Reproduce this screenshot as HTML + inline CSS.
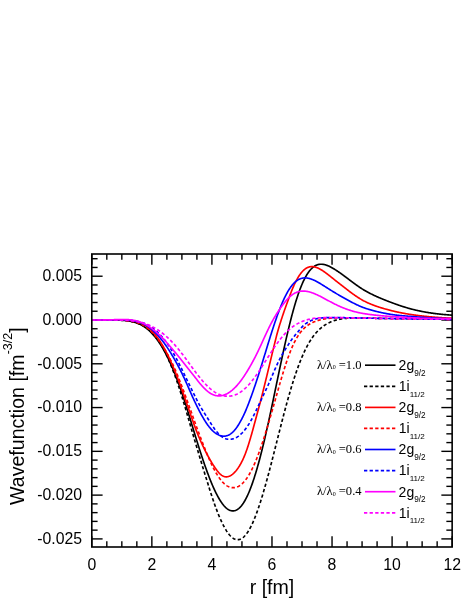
<!DOCTYPE html>
<html><head><meta charset="utf-8"><title>Wavefunction</title>
<style>html,body{margin:0;padding:0;background:#fff;width:463px;height:599px;overflow:hidden;font-family:"Liberation Sans",sans-serif}</style>
</head><body>
<svg width="463" height="599" viewBox="0 0 463 599" style="position:absolute;left:0;top:0;font-family:'Liberation Sans',sans-serif;will-change:transform" font-family="Liberation Sans" fill="#000">
<rect x="0" y="0" width="463" height="599" fill="#fff"/>
<defs><clipPath id="cp"><rect x="91.8" y="254.0" width="360.34999999999997" height="293.0"/></clipPath></defs>
<g stroke="#000" stroke-width="1.4"><line x1="91.80" y1="547.0" x2="91.80" y2="536.2"/><line x1="91.80" y1="254.0" x2="91.80" y2="264.8"/><line x1="106.81" y1="547.0" x2="106.81" y2="541.2"/><line x1="106.81" y1="254.0" x2="106.81" y2="259.8"/><line x1="121.83" y1="547.0" x2="121.83" y2="541.2"/><line x1="121.83" y1="254.0" x2="121.83" y2="259.8"/><line x1="136.84" y1="547.0" x2="136.84" y2="541.2"/><line x1="136.84" y1="254.0" x2="136.84" y2="259.8"/><line x1="151.86" y1="547.0" x2="151.86" y2="536.2"/><line x1="151.86" y1="254.0" x2="151.86" y2="264.8"/><line x1="166.88" y1="547.0" x2="166.88" y2="541.2"/><line x1="166.88" y1="254.0" x2="166.88" y2="259.8"/><line x1="181.89" y1="547.0" x2="181.89" y2="541.2"/><line x1="181.89" y1="254.0" x2="181.89" y2="259.8"/><line x1="196.91" y1="547.0" x2="196.91" y2="541.2"/><line x1="196.91" y1="254.0" x2="196.91" y2="259.8"/><line x1="211.92" y1="547.0" x2="211.92" y2="536.2"/><line x1="211.92" y1="254.0" x2="211.92" y2="264.8"/><line x1="226.94" y1="547.0" x2="226.94" y2="541.2"/><line x1="226.94" y1="254.0" x2="226.94" y2="259.8"/><line x1="241.95" y1="547.0" x2="241.95" y2="541.2"/><line x1="241.95" y1="254.0" x2="241.95" y2="259.8"/><line x1="256.97" y1="547.0" x2="256.97" y2="541.2"/><line x1="256.97" y1="254.0" x2="256.97" y2="259.8"/><line x1="271.98" y1="547.0" x2="271.98" y2="536.2"/><line x1="271.98" y1="254.0" x2="271.98" y2="264.8"/><line x1="287.00" y1="547.0" x2="287.00" y2="541.2"/><line x1="287.00" y1="254.0" x2="287.00" y2="259.8"/><line x1="302.01" y1="547.0" x2="302.01" y2="541.2"/><line x1="302.01" y1="254.0" x2="302.01" y2="259.8"/><line x1="317.03" y1="547.0" x2="317.03" y2="541.2"/><line x1="317.03" y1="254.0" x2="317.03" y2="259.8"/><line x1="332.04" y1="547.0" x2="332.04" y2="536.2"/><line x1="332.04" y1="254.0" x2="332.04" y2="264.8"/><line x1="347.06" y1="547.0" x2="347.06" y2="541.2"/><line x1="347.06" y1="254.0" x2="347.06" y2="259.8"/><line x1="362.07" y1="547.0" x2="362.07" y2="541.2"/><line x1="362.07" y1="254.0" x2="362.07" y2="259.8"/><line x1="377.09" y1="547.0" x2="377.09" y2="541.2"/><line x1="377.09" y1="254.0" x2="377.09" y2="259.8"/><line x1="392.10" y1="547.0" x2="392.10" y2="536.2"/><line x1="392.10" y1="254.0" x2="392.10" y2="264.8"/><line x1="407.12" y1="547.0" x2="407.12" y2="541.2"/><line x1="407.12" y1="254.0" x2="407.12" y2="259.8"/><line x1="422.13" y1="547.0" x2="422.13" y2="541.2"/><line x1="422.13" y1="254.0" x2="422.13" y2="259.8"/><line x1="437.15" y1="547.0" x2="437.15" y2="541.2"/><line x1="437.15" y1="254.0" x2="437.15" y2="259.8"/><line x1="452.16" y1="547.0" x2="452.16" y2="536.2"/><line x1="452.16" y1="254.0" x2="452.16" y2="264.8"/><line x1="91.8" y1="538.90" x2="102.6" y2="538.90"/><line x1="452.15" y1="538.90" x2="441.34999999999997" y2="538.90"/><line x1="91.8" y1="530.14" x2="97.6" y2="530.14"/><line x1="452.15" y1="530.14" x2="446.34999999999997" y2="530.14"/><line x1="91.8" y1="521.39" x2="97.6" y2="521.39"/><line x1="452.15" y1="521.39" x2="446.34999999999997" y2="521.39"/><line x1="91.8" y1="512.63" x2="97.6" y2="512.63"/><line x1="452.15" y1="512.63" x2="446.34999999999997" y2="512.63"/><line x1="91.8" y1="503.88" x2="97.6" y2="503.88"/><line x1="452.15" y1="503.88" x2="446.34999999999997" y2="503.88"/><line x1="91.8" y1="495.12" x2="102.6" y2="495.12"/><line x1="452.15" y1="495.12" x2="441.34999999999997" y2="495.12"/><line x1="91.8" y1="486.36" x2="97.6" y2="486.36"/><line x1="452.15" y1="486.36" x2="446.34999999999997" y2="486.36"/><line x1="91.8" y1="477.61" x2="97.6" y2="477.61"/><line x1="452.15" y1="477.61" x2="446.34999999999997" y2="477.61"/><line x1="91.8" y1="468.85" x2="97.6" y2="468.85"/><line x1="452.15" y1="468.85" x2="446.34999999999997" y2="468.85"/><line x1="91.8" y1="460.10" x2="97.6" y2="460.10"/><line x1="452.15" y1="460.10" x2="446.34999999999997" y2="460.10"/><line x1="91.8" y1="451.34" x2="102.6" y2="451.34"/><line x1="452.15" y1="451.34" x2="441.34999999999997" y2="451.34"/><line x1="91.8" y1="442.58" x2="97.6" y2="442.58"/><line x1="452.15" y1="442.58" x2="446.34999999999997" y2="442.58"/><line x1="91.8" y1="433.83" x2="97.6" y2="433.83"/><line x1="452.15" y1="433.83" x2="446.34999999999997" y2="433.83"/><line x1="91.8" y1="425.07" x2="97.6" y2="425.07"/><line x1="452.15" y1="425.07" x2="446.34999999999997" y2="425.07"/><line x1="91.8" y1="416.32" x2="97.6" y2="416.32"/><line x1="452.15" y1="416.32" x2="446.34999999999997" y2="416.32"/><line x1="91.8" y1="407.56" x2="102.6" y2="407.56"/><line x1="452.15" y1="407.56" x2="441.34999999999997" y2="407.56"/><line x1="91.8" y1="398.80" x2="97.6" y2="398.80"/><line x1="452.15" y1="398.80" x2="446.34999999999997" y2="398.80"/><line x1="91.8" y1="390.05" x2="97.6" y2="390.05"/><line x1="452.15" y1="390.05" x2="446.34999999999997" y2="390.05"/><line x1="91.8" y1="381.29" x2="97.6" y2="381.29"/><line x1="452.15" y1="381.29" x2="446.34999999999997" y2="381.29"/><line x1="91.8" y1="372.54" x2="97.6" y2="372.54"/><line x1="452.15" y1="372.54" x2="446.34999999999997" y2="372.54"/><line x1="91.8" y1="363.78" x2="102.6" y2="363.78"/><line x1="452.15" y1="363.78" x2="441.34999999999997" y2="363.78"/><line x1="91.8" y1="355.02" x2="97.6" y2="355.02"/><line x1="452.15" y1="355.02" x2="446.34999999999997" y2="355.02"/><line x1="91.8" y1="346.27" x2="97.6" y2="346.27"/><line x1="452.15" y1="346.27" x2="446.34999999999997" y2="346.27"/><line x1="91.8" y1="337.51" x2="97.6" y2="337.51"/><line x1="452.15" y1="337.51" x2="446.34999999999997" y2="337.51"/><line x1="91.8" y1="328.76" x2="97.6" y2="328.76"/><line x1="452.15" y1="328.76" x2="446.34999999999997" y2="328.76"/><line x1="91.8" y1="320.00" x2="102.6" y2="320.00"/><line x1="452.15" y1="320.00" x2="441.34999999999997" y2="320.00"/><line x1="91.8" y1="311.24" x2="97.6" y2="311.24"/><line x1="452.15" y1="311.24" x2="446.34999999999997" y2="311.24"/><line x1="91.8" y1="302.49" x2="97.6" y2="302.49"/><line x1="452.15" y1="302.49" x2="446.34999999999997" y2="302.49"/><line x1="91.8" y1="293.73" x2="97.6" y2="293.73"/><line x1="452.15" y1="293.73" x2="446.34999999999997" y2="293.73"/><line x1="91.8" y1="284.98" x2="97.6" y2="284.98"/><line x1="452.15" y1="284.98" x2="446.34999999999997" y2="284.98"/><line x1="91.8" y1="276.22" x2="102.6" y2="276.22"/><line x1="452.15" y1="276.22" x2="441.34999999999997" y2="276.22"/><line x1="91.8" y1="267.46" x2="97.6" y2="267.46"/><line x1="452.15" y1="267.46" x2="446.34999999999997" y2="267.46"/><line x1="91.8" y1="258.71" x2="97.6" y2="258.71"/><line x1="452.15" y1="258.71" x2="446.34999999999997" y2="258.71"/></g>
<g clip-path="url(#cp)">
<path d="M91.80,320.00 L92.25,320.00 L92.70,320.00 L93.15,320.00 L93.60,320.00 L94.05,320.00 L94.50,320.00 L94.95,320.00 L95.40,320.00 L95.85,320.00 L96.30,320.00 L96.75,320.00 L97.21,320.00 L97.66,320.00 L98.11,320.00 L98.56,320.00 L99.01,320.00 L99.46,320.00 L99.91,320.00 L100.36,320.00 L100.81,320.00 L101.26,319.99 L101.71,319.99 L102.16,319.99 L102.61,319.99 L103.06,319.99 L103.51,319.99 L103.96,319.99 L104.41,319.99 L104.86,319.99 L105.31,319.99 L105.76,319.99 L106.21,319.98 L106.66,319.98 L107.12,319.98 L107.57,319.98 L108.02,319.98 L108.47,319.98 L108.92,319.98 L109.37,319.98 L109.82,319.98 L110.27,319.98 L110.72,319.98 L111.17,319.98 L111.62,319.98 L112.07,319.99 L112.52,319.99 L112.97,319.99 L113.42,319.99 L113.87,320.00 L114.32,320.00 L114.77,320.01 L115.22,320.01 L115.67,320.02 L116.12,320.03 L116.57,320.04 L117.03,320.05 L117.48,320.06 L117.93,320.07 L118.38,320.08 L118.83,320.10 L119.28,320.12 L119.73,320.13 L120.18,320.15 L120.63,320.17 L121.08,320.20 L121.53,320.22 L121.98,320.25 L122.43,320.28 L122.88,320.31 L123.33,320.34 L123.78,320.38 L124.23,320.41 L124.68,320.46 L125.13,320.50 L125.58,320.55 L126.03,320.60 L126.48,320.65 L126.94,320.70 L127.39,320.76 L127.84,320.83 L128.29,320.89 L128.74,320.96 L129.19,321.04 L129.64,321.11 L130.09,321.19 L130.54,321.28 L130.99,321.37 L131.44,321.47 L131.89,321.57 L132.34,321.67 L132.79,321.78 L133.24,321.90 L133.69,322.02 L134.14,322.15 L134.59,322.28 L135.04,322.41 L135.49,322.56 L135.94,322.71 L136.39,322.86 L136.84,323.03 L137.30,323.20 L137.75,323.37 L138.20,323.56 L138.65,323.75 L139.10,323.94 L139.55,324.15 L140.00,324.36 L140.45,324.58 L140.90,324.81 L141.35,325.05 L141.80,325.29 L142.25,325.55 L142.70,325.81 L143.15,326.08 L143.60,326.36 L144.05,326.65 L144.50,326.95 L144.95,327.25 L145.40,327.57 L145.85,327.90 L146.30,328.24 L146.75,328.58 L147.21,328.94 L147.66,329.31 L148.11,329.69 L148.56,330.08 L149.01,330.48 L149.46,330.89 L149.91,331.31 L150.36,331.74 L150.81,332.19 L151.26,332.65 L151.71,333.12 L152.16,333.60 L152.61,334.09 L153.06,334.59 L153.52,335.11 L153.97,335.64 L154.43,336.18 L154.88,336.74 L155.34,337.30 L155.79,337.88 L156.25,338.48 L156.71,339.08 L157.16,339.70 L157.62,340.33 L158.08,340.98 L158.54,341.64 L159.00,342.31 L159.46,342.99 L159.92,343.69 L160.38,344.41 L160.84,345.13 L161.31,345.87 L161.77,346.63 L162.23,347.39 L162.69,348.18 L163.16,348.97 L163.62,349.78 L164.08,350.60 L164.54,351.44 L165.01,352.29 L165.47,353.16 L165.93,354.04 L166.40,354.93 L166.86,355.83 L167.32,356.75 L167.78,357.69 L168.25,358.64 L168.71,359.60 L169.17,360.57 L169.63,361.56 L170.09,362.56 L170.56,363.58 L171.02,364.61 L171.48,365.65 L171.94,366.71 L172.40,367.78 L172.86,368.86 L173.32,369.95 L173.78,371.06 L174.24,372.18 L174.69,373.31 L175.15,374.46 L175.61,375.61 L176.06,376.78 L176.52,377.96 L176.97,379.15 L177.43,380.36 L177.88,381.57 L178.33,382.80 L178.79,384.03 L179.24,385.28 L179.69,386.54 L180.14,387.81 L180.58,389.09 L181.03,390.37 L181.48,391.67 L181.92,392.98 L182.36,394.29 L182.80,395.62 L183.25,396.95 L183.69,398.29 L184.13,399.64 L184.56,401.00 L185.00,402.36 L185.44,403.73 L185.88,405.11 L186.31,406.49 L186.75,407.88 L187.18,409.28 L187.62,410.68 L188.05,412.08 L188.49,413.49 L188.92,414.91 L189.36,416.33 L189.79,417.75 L190.23,419.17 L190.66,420.60 L191.10,422.03 L191.53,423.47 L191.97,424.90 L192.40,426.34 L192.84,427.78 L193.27,429.21 L193.71,430.65 L194.15,432.09 L194.58,433.53 L195.02,434.96 L195.46,436.40 L195.90,437.83 L196.34,439.26 L196.79,440.69 L197.23,442.11 L197.67,443.53 L198.12,444.95 L198.56,446.36 L199.01,447.77 L199.46,449.17 L199.91,450.57 L200.36,451.96 L200.81,453.35 L201.26,454.73 L201.71,456.10 L202.17,457.46 L202.62,458.82 L203.07,460.17 L203.53,461.51 L203.98,462.84 L204.44,464.16 L204.89,465.47 L205.35,466.77 L205.81,468.06 L206.26,469.34 L206.72,470.60 L207.18,471.86 L207.63,473.10 L208.09,474.33 L208.55,475.54 L209.01,476.74 L209.47,477.93 L209.93,479.10 L210.39,480.25 L210.84,481.39 L211.30,482.52 L211.76,483.63 L212.22,484.72 L212.68,485.79 L213.14,486.85 L213.60,487.88 L214.06,488.90 L214.52,489.90 L214.99,490.88 L215.45,491.84 L215.91,492.78 L216.37,493.71 L216.83,494.61 L217.29,495.48 L217.75,496.34 L218.21,497.18 L218.67,497.99 L219.13,498.78 L219.59,499.55 L220.05,500.30 L220.51,501.02 L220.97,501.72 L221.43,502.40 L221.89,503.05 L222.35,503.68 L222.81,504.28 L223.27,504.86 L223.73,505.41 L224.19,505.94 L224.65,506.44 L225.10,506.91 L225.56,507.36 L226.02,507.79 L226.48,508.19 L226.93,508.56 L227.39,508.90 L227.85,509.22 L228.30,509.51 L228.76,509.77 L229.21,510.01 L229.67,510.22 L230.12,510.40 L230.58,510.56 L231.03,510.68 L231.48,510.78 L231.94,510.86 L232.39,510.90 L232.84,510.92 L233.29,510.90 L233.74,510.86 L234.19,510.80 L234.64,510.70 L235.09,510.58 L235.53,510.42 L235.98,510.24 L236.43,510.03 L236.87,509.80 L237.32,509.53 L237.76,509.24 L238.20,508.92 L238.65,508.58 L239.09,508.21 L239.53,507.80 L239.97,507.37 L240.41,506.92 L240.85,506.43 L241.29,505.92 L241.73,505.37 L242.17,504.80 L242.61,504.20 L243.05,503.57 L243.49,502.92 L243.93,502.23 L244.37,501.51 L244.81,500.77 L245.24,499.99 L245.68,499.19 L246.12,498.36 L246.56,497.49 L247.00,496.60 L247.43,495.68 L247.87,494.73 L248.31,493.75 L248.75,492.74 L249.19,491.70 L249.63,490.64 L250.06,489.54 L250.50,488.42 L250.94,487.26 L251.38,486.08 L251.82,484.87 L252.26,483.63 L252.70,482.36 L253.14,481.07 L253.58,479.75 L254.03,478.39 L254.47,477.02 L254.91,475.61 L255.35,474.18 L255.80,472.73 L256.24,471.24 L256.69,469.73 L257.13,468.20 L257.58,466.64 L258.02,465.06 L258.47,463.45 L258.92,461.81 L259.37,460.16 L259.82,458.48 L260.27,456.78 L260.72,455.05 L261.17,453.30 L261.62,451.53 L262.07,449.73 L262.52,447.92 L262.97,446.08 L263.42,444.22 L263.87,442.35 L264.32,440.45 L264.77,438.53 L265.22,436.60 L265.67,434.65 L266.12,432.68 L266.57,430.69 L267.03,428.69 L267.48,426.67 L267.93,424.64 L268.38,422.59 L268.83,420.53 L269.28,418.46 L269.73,416.37 L270.18,414.28 L270.63,412.17 L271.08,410.05 L271.53,407.93 L271.98,405.79 L272.43,403.65 L272.88,401.50 L273.33,399.35 L273.78,397.19 L274.23,395.03 L274.68,392.86 L275.13,390.69 L275.58,388.52 L276.03,386.34 L276.48,384.17 L276.93,382.00 L277.39,379.83 L277.84,377.66 L278.29,375.49 L278.74,373.33 L279.19,371.17 L279.64,369.02 L280.09,366.87 L280.54,364.73 L280.99,362.60 L281.44,360.48 L281.89,358.37 L282.34,356.26 L282.79,354.17 L283.24,352.09 L283.69,350.03 L284.14,347.98 L284.59,345.94 L285.04,343.91 L285.49,341.90 L285.94,339.91 L286.39,337.94 L286.84,335.98 L287.30,334.04 L287.75,332.13 L288.20,330.23 L288.65,328.35 L289.10,326.49 L289.55,324.66 L290.00,322.84 L290.45,321.05 L290.90,319.29 L291.35,317.55 L291.80,315.83 L292.25,314.14 L292.70,312.47 L293.15,310.83 L293.60,309.21 L294.05,307.63 L294.50,306.06 L294.95,304.53 L295.40,303.03 L295.85,301.55 L296.30,300.10 L296.75,298.68 L297.21,297.29 L297.66,295.93 L298.11,294.60 L298.56,293.30 L299.01,292.03 L299.46,290.78 L299.91,289.57 L300.36,288.39 L300.81,287.24 L301.26,286.12 L301.71,285.03 L302.16,283.97 L302.61,282.94 L303.06,281.94 L303.51,280.97 L303.96,280.04 L304.41,279.13 L304.86,278.25 L305.31,277.40 L305.76,276.58 L306.21,275.79 L306.66,275.03 L307.12,274.30 L307.57,273.60 L308.02,272.93 L308.47,272.28 L308.92,271.66 L309.37,271.08 L309.82,270.51 L310.27,269.98 L310.72,269.47 L311.17,268.99 L311.62,268.53 L312.07,268.10 L312.52,267.70 L312.97,267.32 L313.42,266.96 L313.87,266.63 L314.32,266.32 L314.77,266.04 L315.22,265.77 L315.67,265.53 L316.12,265.32 L316.57,265.12 L317.03,264.94 L317.48,264.79 L317.93,264.65 L318.38,264.53 L318.83,264.43 L319.28,264.35 L319.73,264.29 L320.18,264.25 L320.63,264.22 L321.08,264.21 L321.53,264.22 L321.98,264.24 L322.43,264.27 L322.88,264.32 L323.33,264.38 L323.78,264.46 L324.23,264.55 L324.68,264.66 L325.13,264.77 L325.58,264.90 L326.03,265.04 L326.48,265.19 L326.93,265.35 L327.39,265.52 L327.84,265.70 L328.29,265.88 L328.74,266.08 L329.19,266.29 L329.64,266.50 L330.09,266.72 L330.54,266.95 L330.99,267.19 L331.44,267.43 L331.89,267.68 L332.34,267.93 L332.79,268.19 L333.24,268.46 L333.69,268.73 L334.14,269.00 L334.59,269.28 L335.04,269.57 L335.49,269.85 L335.94,270.14 L336.39,270.44 L336.84,270.73 L337.30,271.03 L337.75,271.33 L338.20,271.64 L338.65,271.95 L339.10,272.25 L339.55,272.56 L340.00,272.88 L340.45,273.19 L340.90,273.51 L341.35,273.83 L341.80,274.15 L342.25,274.47 L342.70,274.80 L343.15,275.13 L343.60,275.47 L344.05,275.80 L344.50,276.14 L344.95,276.47 L345.40,276.81 L345.85,277.15 L346.30,277.49 L346.75,277.83 L347.21,278.18 L347.66,278.52 L348.11,278.86 L348.56,279.20 L349.01,279.55 L349.46,279.89 L349.91,280.23 L350.36,280.57 L350.81,280.91 L351.26,281.25 L351.71,281.59 L352.16,281.93 L352.61,282.27 L353.06,282.60 L353.51,282.93 L353.96,283.27 L354.41,283.60 L354.86,283.93 L355.31,284.25 L355.76,284.58 L356.21,284.90 L356.66,285.22 L357.12,285.54 L357.57,285.85 L358.02,286.17 L358.47,286.48 L358.92,286.78 L359.37,287.09 L359.82,287.39 L360.27,287.69 L360.72,287.98 L361.17,288.28 L361.62,288.57 L362.07,288.85 L362.52,289.13 L362.97,289.41 L363.42,289.69 L363.87,289.96 L364.32,290.23 L364.77,290.49 L365.22,290.75 L365.67,291.01 L366.12,291.26 L366.57,291.51 L367.02,291.76 L367.48,292.01 L367.93,292.25 L368.38,292.49 L368.83,292.73 L369.28,292.97 L369.73,293.20 L370.18,293.43 L370.63,293.66 L371.08,293.89 L371.53,294.12 L371.98,294.34 L372.43,294.56 L372.88,294.78 L373.33,295.00 L373.78,295.21 L374.23,295.42 L374.68,295.64 L375.13,295.85 L375.58,296.05 L376.03,296.26 L376.48,296.46 L376.93,296.67 L377.39,296.87 L377.84,297.07 L378.29,297.26 L378.74,297.46 L379.19,297.65 L379.64,297.85 L380.09,298.04 L380.54,298.23 L380.99,298.42 L381.44,298.61 L381.89,298.79 L382.34,298.98 L382.79,299.16 L383.24,299.35 L383.69,299.53 L384.14,299.71 L384.59,299.89 L385.04,300.07 L385.49,300.25 L385.94,300.42 L386.39,300.60 L386.84,300.78 L387.30,300.95 L387.75,301.13 L388.20,301.30 L388.65,301.48 L389.10,301.65 L389.55,301.82 L390.00,301.99 L390.45,302.17 L390.90,302.34 L391.35,302.51 L391.80,302.67 L392.25,302.84 L392.70,303.01 L393.15,303.18 L393.60,303.34 L394.05,303.51 L394.50,303.67 L394.95,303.83 L395.40,304.00 L395.85,304.16 L396.30,304.32 L396.75,304.48 L397.21,304.63 L397.66,304.79 L398.11,304.95 L398.56,305.10 L399.01,305.26 L399.46,305.41 L399.91,305.56 L400.36,305.71 L400.81,305.86 L401.26,306.01 L401.71,306.16 L402.16,306.30 L402.61,306.45 L403.06,306.59 L403.51,306.74 L403.96,306.88 L404.41,307.02 L404.86,307.16 L405.31,307.29 L405.76,307.43 L406.21,307.57 L406.66,307.70 L407.12,307.83 L407.57,307.96 L408.02,308.10 L408.47,308.22 L408.92,308.35 L409.37,308.48 L409.82,308.60 L410.27,308.73 L410.72,308.85 L411.17,308.97 L411.62,309.09 L412.07,309.21 L412.52,309.32 L412.97,309.44 L413.42,309.55 L413.87,309.66 L414.32,309.77 L414.77,309.88 L415.22,309.99 L415.67,310.09 L416.12,310.20 L416.57,310.30 L417.02,310.40 L417.48,310.51 L417.93,310.61 L418.38,310.70 L418.83,310.80 L419.28,310.90 L419.73,310.99 L420.18,311.09 L420.63,311.18 L421.08,311.27 L421.53,311.36 L421.98,311.45 L422.43,311.54 L422.88,311.62 L423.33,311.71 L423.78,311.79 L424.23,311.88 L424.68,311.96 L425.13,312.04 L425.58,312.12 L426.03,312.20 L426.48,312.28 L426.93,312.35 L427.39,312.43 L427.84,312.50 L428.29,312.58 L428.74,312.65 L429.19,312.72 L429.64,312.79 L430.09,312.86 L430.54,312.93 L430.99,312.99 L431.44,313.06 L431.89,313.13 L432.34,313.19 L432.79,313.25 L433.24,313.32 L433.69,313.38 L434.14,313.44 L434.59,313.50 L435.04,313.56 L435.49,313.61 L435.94,313.67 L436.39,313.73 L436.84,313.78 L437.30,313.83 L437.75,313.89 L438.20,313.94 L438.65,313.99 L439.10,314.04 L439.55,314.09 L440.00,314.14 L440.45,314.19 L440.90,314.23 L441.35,314.28 L441.80,314.32 L442.25,314.37 L442.70,314.41 L443.15,314.45 L443.60,314.50 L444.05,314.54 L444.50,314.58 L444.95,314.62 L445.40,314.66 L445.85,314.69 L446.30,314.73 L446.75,314.77 L447.21,314.80 L447.66,314.84 L448.11,314.87 L448.56,314.90 L449.01,314.94 L449.46,314.97 L449.91,315.00 L450.36,315.03 L450.81,315.06 L451.26,315.09 L451.71,315.11 L452.16,315.14" fill="none" stroke="#000000" stroke-width="1.65" stroke-linejoin="round"/>
<path d="M91.80,320.00 L92.25,320.00 L92.70,320.00 L93.15,320.00 L93.60,320.00 L94.05,320.00 L94.50,320.00 L94.95,320.00 L95.40,320.00 L95.85,320.00 L96.30,320.00 L96.75,320.00 L97.21,320.00 L97.66,320.00 L98.11,320.00 L98.56,320.00 L99.01,320.00 L99.46,320.00 L99.91,320.00 L100.36,320.00 L100.81,320.00 L101.26,320.00 L101.71,320.00 L102.16,320.00 L102.61,320.00 L103.06,320.00 L103.51,320.00 L103.96,320.00 L104.41,320.00 L104.86,320.00 L105.31,320.01 L105.76,320.01 L106.21,320.01 L106.66,320.01 L107.12,320.01 L107.57,320.01 L108.02,320.01 L108.47,320.02 L108.92,320.02 L109.37,320.02 L109.82,320.02 L110.27,320.03 L110.72,320.03 L111.17,320.04 L111.62,320.04 L112.07,320.05 L112.52,320.05 L112.97,320.06 L113.42,320.06 L113.87,320.07 L114.32,320.08 L114.77,320.09 L115.22,320.10 L115.67,320.11 L116.12,320.12 L116.57,320.13 L117.03,320.15 L117.48,320.16 L117.93,320.18 L118.38,320.19 L118.83,320.21 L119.28,320.23 L119.73,320.25 L120.18,320.27 L120.63,320.30 L121.08,320.32 L121.53,320.35 L121.98,320.38 L122.43,320.41 L122.88,320.44 L123.33,320.47 L123.78,320.51 L124.23,320.55 L124.68,320.59 L125.13,320.63 L125.58,320.68 L126.03,320.73 L126.48,320.78 L126.94,320.83 L127.39,320.89 L127.84,320.95 L128.29,321.02 L128.74,321.08 L129.19,321.15 L129.64,321.23 L130.09,321.30 L130.54,321.39 L130.99,321.47 L131.44,321.56 L131.89,321.65 L132.34,321.75 L132.79,321.86 L133.24,321.96 L133.69,322.07 L134.14,322.19 L134.59,322.31 L135.04,322.44 L135.49,322.57 L135.94,322.71 L136.39,322.86 L136.84,323.01 L137.30,323.16 L137.75,323.33 L138.20,323.49 L138.65,323.67 L139.10,323.85 L139.55,324.04 L140.00,324.24 L140.45,324.44 L140.90,324.65 L141.35,324.87 L141.80,325.09 L142.25,325.33 L142.70,325.57 L143.15,325.82 L143.60,326.08 L144.05,326.35 L144.50,326.62 L144.95,326.91 L145.40,327.20 L145.85,327.50 L146.30,327.82 L146.75,328.14 L147.21,328.47 L147.66,328.82 L148.11,329.17 L148.56,329.53 L149.01,329.91 L149.46,330.29 L149.91,330.69 L150.36,331.09 L150.81,331.51 L151.26,331.94 L151.71,332.38 L152.16,332.83 L152.61,333.30 L153.06,333.77 L153.50,334.26 L153.95,334.77 L154.40,335.28 L154.84,335.81 L155.28,336.35 L155.73,336.90 L156.17,337.46 L156.61,338.04 L157.05,338.64 L157.49,339.24 L157.93,339.86 L158.37,340.50 L158.81,341.14 L159.24,341.80 L159.68,342.48 L160.12,343.17 L160.55,343.87 L160.99,344.59 L161.42,345.33 L161.86,346.08 L162.29,346.84 L162.72,347.62 L163.16,348.41 L163.59,349.22 L164.03,350.04 L164.46,350.88 L164.89,351.73 L165.32,352.60 L165.76,353.48 L166.19,354.38 L166.62,355.29 L167.06,356.22 L167.49,357.17 L167.92,358.13 L168.35,359.10 L168.79,360.09 L169.22,361.10 L169.66,362.12 L170.09,363.16 L170.52,364.21 L170.96,365.28 L171.39,366.36 L171.83,367.46 L172.26,368.57 L172.70,369.70 L173.14,370.84 L173.58,372.00 L174.01,373.17 L174.45,374.36 L174.89,375.56 L175.33,376.77 L175.77,378.00 L176.21,379.25 L176.65,380.50 L177.09,381.78 L177.53,383.06 L177.96,384.36 L178.40,385.67 L178.84,387.00 L179.28,388.34 L179.72,389.69 L180.16,391.05 L180.60,392.43 L181.03,393.82 L181.47,395.22 L181.91,396.63 L182.35,398.06 L182.79,399.49 L183.23,400.94 L183.67,402.40 L184.11,403.86 L184.55,405.34 L184.99,406.83 L185.44,408.33 L185.88,409.83 L186.32,411.35 L186.77,412.87 L187.21,414.40 L187.66,415.94 L188.10,417.49 L188.55,419.05 L189.00,420.61 L189.45,422.18 L189.90,423.75 L190.35,425.33 L190.81,426.92 L191.27,428.51 L191.73,430.11 L192.19,431.71 L192.66,433.31 L193.13,434.92 L193.60,436.53 L194.07,438.14 L194.55,439.76 L195.03,441.38 L195.51,442.99 L195.99,444.61 L196.47,446.23 L196.95,447.85 L197.44,449.47 L197.92,451.09 L198.41,452.71 L198.89,454.33 L199.38,455.94 L199.86,457.55 L200.35,459.16 L200.84,460.76 L201.32,462.36 L201.81,463.96 L202.29,465.55 L202.78,467.14 L203.26,468.72 L203.74,470.29 L204.22,471.85 L204.70,473.41 L205.18,474.96 L205.65,476.51 L206.13,478.04 L206.60,479.56 L207.07,481.08 L207.53,482.58 L208.00,484.08 L208.46,485.56 L208.92,487.03 L209.37,488.49 L209.83,489.94 L210.29,491.37 L210.74,492.79 L211.20,494.20 L211.65,495.60 L212.11,496.98 L212.57,498.35 L213.02,499.70 L213.48,501.03 L213.93,502.35 L214.39,503.66 L214.84,504.94 L215.30,506.21 L215.75,507.46 L216.21,508.70 L216.67,509.91 L217.12,511.11 L217.57,512.28 L218.03,513.44 L218.48,514.57 L218.94,515.69 L219.39,516.78 L219.85,517.85 L220.30,518.90 L220.76,519.93 L221.21,520.94 L221.67,521.92 L222.12,522.88 L222.57,523.81 L223.03,524.72 L223.48,525.61 L223.93,526.47 L224.39,527.31 L224.84,528.12 L225.29,528.91 L225.75,529.67 L226.20,530.40 L226.65,531.11 L227.11,531.79 L227.56,532.44 L228.01,533.07 L228.47,533.67 L228.92,534.24 L229.37,534.79 L229.82,535.31 L230.27,535.79 L230.73,536.25 L231.18,536.69 L231.63,537.09 L232.08,537.46 L232.53,537.81 L232.99,538.13 L233.44,538.42 L233.89,538.68 L234.34,538.90 L234.79,539.11 L235.24,539.28 L235.69,539.42 L236.14,539.53 L236.59,539.61 L237.04,539.67 L237.50,539.69 L237.95,539.69 L238.40,539.65 L238.85,539.59 L239.29,539.49 L239.74,539.37 L240.19,539.21 L240.64,539.03 L241.09,538.82 L241.54,538.57 L241.99,538.30 L242.43,537.99 L242.88,537.66 L243.33,537.30 L243.78,536.90 L244.22,536.48 L244.67,536.02 L245.12,535.54 L245.56,535.02 L246.01,534.48 L246.46,533.91 L246.90,533.30 L247.35,532.67 L247.80,532.01 L248.24,531.31 L248.69,530.59 L249.13,529.84 L249.58,529.06 L250.03,528.25 L250.47,527.42 L250.92,526.55 L251.36,525.66 L251.81,524.74 L252.25,523.79 L252.70,522.82 L253.15,521.81 L253.59,520.79 L254.04,519.73 L254.48,518.65 L254.93,517.54 L255.38,516.41 L255.82,515.25 L256.27,514.07 L256.71,512.86 L257.16,511.63 L257.61,510.38 L258.05,509.10 L258.50,507.80 L258.95,506.48 L259.39,505.13 L259.84,503.77 L260.29,502.38 L260.74,500.98 L261.18,499.55 L261.63,498.10 L262.08,496.64 L262.53,495.16 L262.98,493.66 L263.43,492.14 L263.87,490.60 L264.32,489.05 L264.77,487.48 L265.22,485.90 L265.67,484.31 L266.12,482.69 L266.57,481.07 L267.03,479.43 L267.48,477.78 L267.93,476.12 L268.38,474.44 L268.83,472.76 L269.28,471.06 L269.73,469.35 L270.18,467.64 L270.63,465.91 L271.08,464.18 L271.53,462.43 L271.98,460.69 L272.43,458.93 L272.88,457.17 L273.33,455.41 L273.78,453.63 L274.23,451.86 L274.68,450.08 L275.13,448.30 L275.58,446.52 L276.03,444.74 L276.48,442.95 L276.93,441.17 L277.39,439.39 L277.84,437.60 L278.29,435.82 L278.74,434.04 L279.19,432.27 L279.64,430.49 L280.09,428.72 L280.54,426.96 L280.99,425.20 L281.44,423.45 L281.89,421.70 L282.34,419.96 L282.79,418.23 L283.24,416.50 L283.69,414.79 L284.14,413.08 L284.59,411.38 L285.04,409.69 L285.49,408.01 L285.94,406.35 L286.39,404.69 L286.84,403.05 L287.30,401.42 L287.75,399.80 L288.20,398.19 L288.65,396.60 L289.10,395.02 L289.55,393.46 L290.00,391.91 L290.45,390.37 L290.90,388.85 L291.35,387.35 L291.80,385.86 L292.25,384.39 L292.70,382.94 L293.15,381.50 L293.60,380.08 L294.05,378.68 L294.50,377.29 L294.95,375.92 L295.40,374.57 L295.85,373.24 L296.30,371.93 L296.75,370.63 L297.21,369.36 L297.66,368.10 L298.11,366.86 L298.56,365.64 L299.01,364.44 L299.46,363.26 L299.91,362.10 L300.36,360.96 L300.81,359.84 L301.26,358.74 L301.71,357.65 L302.16,356.59 L302.61,355.55 L303.06,354.52 L303.51,353.52 L303.96,352.53 L304.41,351.56 L304.86,350.62 L305.31,349.69 L305.76,348.78 L306.21,347.89 L306.66,347.02 L307.12,346.16 L307.57,345.33 L308.02,344.51 L308.47,343.72 L308.92,342.94 L309.37,342.17 L309.82,341.43 L310.27,340.70 L310.72,339.99 L311.17,339.30 L311.62,338.63 L312.07,337.97 L312.52,337.33 L312.97,336.70 L313.42,336.09 L313.87,335.50 L314.32,334.92 L314.77,334.36 L315.22,333.81 L315.67,333.27 L316.12,332.75 L316.57,332.25 L317.03,331.75 L317.48,331.28 L317.93,330.81 L318.38,330.36 L318.83,329.92 L319.28,329.49 L319.73,329.07 L320.18,328.67 L320.63,328.28 L321.08,327.90 L321.53,327.53 L321.98,327.17 L322.43,326.82 L322.88,326.48 L323.33,326.15 L323.78,325.83 L324.23,325.52 L324.68,325.22 L325.13,324.92 L325.58,324.64 L326.03,324.36 L326.48,324.09 L326.93,323.84 L327.39,323.58 L327.84,323.34 L328.29,323.10 L328.74,322.87 L329.19,322.65 L329.64,322.44 L330.09,322.23 L330.54,322.03 L330.99,321.83 L331.44,321.64 L331.89,321.46 L332.34,321.28 L332.79,321.11 L333.24,320.95 L333.69,320.79 L334.14,320.64 L334.59,320.50 L335.04,320.36 L335.49,320.22 L335.94,320.09 L336.39,319.97 L336.84,319.85 L337.30,319.74 L337.75,319.63 L338.20,319.53 L338.65,319.43 L339.10,319.34 L339.55,319.25 L340.00,319.16 L340.45,319.08 L340.90,319.01 L341.35,318.93 L341.80,318.86 L342.25,318.80 L342.70,318.74 L343.15,318.68 L343.60,318.63 L344.05,318.58 L344.50,318.53 L344.95,318.48 L345.40,318.44 L345.85,318.40 L346.30,318.37 L346.75,318.33 L347.21,318.30 L347.66,318.27 L348.11,318.24 L348.56,318.22 L349.01,318.19 L349.46,318.17 L349.91,318.15 L350.36,318.13 L350.81,318.12 L351.26,318.10 L351.71,318.09 L352.16,318.08 L352.61,318.07 L353.06,318.06 L353.51,318.05 L353.96,318.05 L354.41,318.04 L354.86,318.04 L355.31,318.04 L355.76,318.03 L356.21,318.03 L356.66,318.03 L357.12,318.03 L357.57,318.03 L358.02,318.04 L358.47,318.04 L358.92,318.04 L359.37,318.04 L359.82,318.05 L360.27,318.05 L360.72,318.06 L361.17,318.06 L361.62,318.07 L362.07,318.07 L362.52,318.08 L362.97,318.09 L363.42,318.09 L363.87,318.10 L364.32,318.11 L364.77,318.12 L365.22,318.12 L365.67,318.13 L366.12,318.14 L366.57,318.15 L367.02,318.15 L367.48,318.16 L367.93,318.17 L368.38,318.18 L368.83,318.19 L369.28,318.20 L369.73,318.21 L370.18,318.21 L370.63,318.22 L371.08,318.23 L371.53,318.24 L371.98,318.25 L372.43,318.26 L372.88,318.27 L373.33,318.27 L373.78,318.28 L374.23,318.29 L374.68,318.30 L375.13,318.31 L375.58,318.31 L376.03,318.32 L376.48,318.33 L376.93,318.34 L377.39,318.34 L377.84,318.35 L378.29,318.36 L378.74,318.37 L379.19,318.37 L379.64,318.38 L380.09,318.39 L380.54,318.40 L380.99,318.40 L381.44,318.41 L381.89,318.42 L382.34,318.42 L382.79,318.43 L383.24,318.44 L383.69,318.44 L384.14,318.45 L384.59,318.46 L385.04,318.46 L385.49,318.47 L385.94,318.48 L386.39,318.48 L386.84,318.49 L387.30,318.50 L387.75,318.50 L388.20,318.51 L388.65,318.52 L389.10,318.52 L389.55,318.53 L390.00,318.54 L390.45,318.54 L390.90,318.55 L391.35,318.56 L391.80,318.56 L392.25,318.57 L392.70,318.57 L393.15,318.58 L393.60,318.59 L394.05,318.59 L394.50,318.60 L394.95,318.61 L395.40,318.61 L395.85,318.62 L396.30,318.62 L396.75,318.63 L397.21,318.64 L397.66,318.64 L398.11,318.65 L398.56,318.66 L399.01,318.66 L399.46,318.67 L399.91,318.67 L400.36,318.68 L400.81,318.69 L401.26,318.69 L401.71,318.70 L402.16,318.71 L402.61,318.71 L403.06,318.72 L403.51,318.72 L403.96,318.73 L404.41,318.74 L404.86,318.74 L405.31,318.75 L405.76,318.76 L406.21,318.76 L406.66,318.77 L407.12,318.77 L407.57,318.78 L408.02,318.79 L408.47,318.79 L408.92,318.80 L409.37,318.81 L409.82,318.81 L410.27,318.82 L410.72,318.82 L411.17,318.83 L411.62,318.84 L412.07,318.84 L412.52,318.85 L412.97,318.86 L413.42,318.86 L413.87,318.87 L414.32,318.88 L414.77,318.88 L415.22,318.89 L415.67,318.89 L416.12,318.90 L416.57,318.91 L417.02,318.91 L417.48,318.92 L417.93,318.93 L418.38,318.93 L418.83,318.94 L419.28,318.94 L419.73,318.95 L420.18,318.96 L420.63,318.96 L421.08,318.97 L421.53,318.98 L421.98,318.98 L422.43,318.99 L422.88,318.99 L423.33,319.00 L423.78,319.01 L424.23,319.01 L424.68,319.02 L425.13,319.03 L425.58,319.03 L426.03,319.04 L426.48,319.04 L426.93,319.05 L427.39,319.06 L427.84,319.06 L428.29,319.07 L428.74,319.07 L429.19,319.08 L429.64,319.09 L430.09,319.09 L430.54,319.10 L430.99,319.11 L431.44,319.11 L431.89,319.12 L432.34,319.12 L432.79,319.13 L433.24,319.14 L433.69,319.14 L434.14,319.15 L434.59,319.15 L435.04,319.16 L435.49,319.17 L435.94,319.17 L436.39,319.18 L436.84,319.18 L437.30,319.19 L437.75,319.20 L438.20,319.20 L438.65,319.21 L439.10,319.21 L439.55,319.22 L440.00,319.23 L440.45,319.23 L440.90,319.24 L441.35,319.24 L441.80,319.25 L442.25,319.26 L442.70,319.26 L443.15,319.27 L443.60,319.27 L444.05,319.28 L444.50,319.29 L444.95,319.29 L445.40,319.30 L445.85,319.30 L446.30,319.31 L446.75,319.32 L447.21,319.32 L447.66,319.33 L448.11,319.33 L448.56,319.34 L449.01,319.35 L449.46,319.35 L449.91,319.36 L450.36,319.36 L450.81,319.37 L451.26,319.38 L451.71,319.38 L452.16,319.39" fill="none" stroke="#000000" stroke-width="1.65" stroke-dasharray="3.3,2.3" stroke-linejoin="round"/>
<path d="M91.80,320.00 L92.25,320.00 L92.70,320.00 L93.15,320.00 L93.60,320.00 L94.05,320.00 L94.50,320.00 L94.95,320.00 L95.40,320.00 L95.85,320.00 L96.30,320.00 L96.75,320.00 L97.21,320.00 L97.66,320.00 L98.11,320.00 L98.56,320.00 L99.01,320.00 L99.46,320.00 L99.91,320.00 L100.36,320.00 L100.81,320.00 L101.26,320.00 L101.71,320.00 L102.16,319.99 L102.61,319.99 L103.06,319.99 L103.51,319.99 L103.96,319.99 L104.41,319.99 L104.86,319.99 L105.31,319.99 L105.76,319.98 L106.21,319.98 L106.66,319.98 L107.12,319.98 L107.57,319.98 L108.02,319.97 L108.47,319.97 L108.92,319.97 L109.37,319.97 L109.82,319.96 L110.27,319.96 L110.72,319.96 L111.17,319.95 L111.62,319.95 L112.07,319.95 L112.52,319.95 L112.97,319.94 L113.42,319.94 L113.87,319.94 L114.32,319.94 L114.77,319.93 L115.22,319.93 L115.67,319.93 L116.12,319.93 L116.57,319.93 L117.03,319.93 L117.48,319.93 L117.93,319.93 L118.38,319.93 L118.83,319.93 L119.28,319.93 L119.73,319.93 L120.18,319.94 L120.63,319.94 L121.08,319.95 L121.53,319.96 L121.98,319.96 L122.43,319.97 L122.88,319.99 L123.33,320.00 L123.78,320.01 L124.23,320.03 L124.68,320.05 L125.13,320.07 L125.58,320.09 L126.03,320.11 L126.48,320.14 L126.94,320.17 L127.39,320.20 L127.84,320.24 L128.29,320.27 L128.74,320.31 L129.19,320.36 L129.64,320.40 L130.09,320.46 L130.54,320.51 L130.99,320.57 L131.44,320.63 L131.89,320.70 L132.34,320.77 L132.79,320.84 L133.24,320.93 L133.69,321.01 L134.14,321.10 L134.59,321.20 L135.04,321.30 L135.49,321.41 L135.94,321.52 L136.39,321.64 L136.84,321.76 L137.30,321.90 L137.75,322.04 L138.20,322.18 L138.65,322.33 L139.10,322.50 L139.55,322.66 L140.00,322.84 L140.45,323.02 L140.90,323.21 L141.35,323.41 L141.80,323.62 L142.25,323.84 L142.70,324.07 L143.15,324.30 L143.60,324.55 L144.05,324.80 L144.50,325.07 L144.95,325.34 L145.40,325.63 L145.85,325.93 L146.30,326.23 L146.75,326.55 L147.21,326.88 L147.66,327.22 L148.11,327.57 L148.56,327.93 L149.01,328.30 L149.46,328.69 L149.91,329.09 L150.36,329.50 L150.81,329.92 L151.26,330.36 L151.71,330.80 L152.16,331.27 L152.61,331.74 L153.06,332.23 L153.52,332.73 L153.97,333.24 L154.43,333.77 L154.88,334.31 L155.34,334.86 L155.80,335.43 L156.26,336.01 L156.71,336.61 L157.17,337.22 L157.63,337.85 L158.10,338.49 L158.56,339.14 L159.02,339.81 L159.48,340.49 L159.94,341.19 L160.41,341.90 L160.87,342.62 L161.33,343.36 L161.80,344.12 L162.26,344.89 L162.73,345.67 L163.19,346.47 L163.66,347.28 L164.12,348.11 L164.59,348.95 L165.05,349.80 L165.52,350.67 L165.98,351.56 L166.45,352.45 L166.91,353.36 L167.38,354.29 L167.85,355.23 L168.31,356.18 L168.77,357.15 L169.24,358.13 L169.70,359.12 L170.17,360.13 L170.63,361.14 L171.09,362.17 L171.56,363.22 L172.02,364.27 L172.48,365.34 L172.94,366.42 L173.41,367.51 L173.87,368.62 L174.33,369.73 L174.79,370.86 L175.24,371.99 L175.70,373.14 L176.16,374.29 L176.62,375.46 L177.07,376.63 L177.53,377.82 L177.98,379.01 L178.43,380.22 L178.89,381.43 L179.34,382.65 L179.79,383.87 L180.24,385.11 L180.69,386.35 L181.14,387.59 L181.59,388.85 L182.04,390.11 L182.49,391.37 L182.94,392.64 L183.39,393.92 L183.84,395.20 L184.29,396.48 L184.74,397.77 L185.19,399.06 L185.64,400.35 L186.09,401.65 L186.54,402.94 L186.99,404.24 L187.44,405.54 L187.90,406.84 L188.35,408.14 L188.80,409.45 L189.25,410.75 L189.70,412.05 L190.15,413.34 L190.60,414.64 L191.05,415.93 L191.50,417.22 L191.95,418.51 L192.40,419.79 L192.85,421.07 L193.30,422.35 L193.75,423.62 L194.20,424.88 L194.65,426.14 L195.11,427.39 L195.57,428.63 L196.04,429.87 L196.51,431.10 L196.99,432.32 L197.47,433.54 L197.96,434.74 L198.45,435.93 L198.94,437.12 L199.44,438.29 L199.94,439.46 L200.44,440.61 L200.95,441.75 L201.46,442.88 L201.97,443.99 L202.48,445.09 L202.99,446.18 L203.50,447.26 L204.02,448.32 L204.53,449.37 L205.05,450.40 L205.56,451.42 L206.07,452.42 L206.58,453.41 L207.10,454.38 L207.60,455.33 L208.11,456.26 L208.62,457.18 L209.12,458.08 L209.62,458.97 L210.11,459.83 L210.60,460.68 L211.09,461.50 L211.57,462.31 L212.05,463.10 L212.53,463.87 L213.00,464.62 L213.46,465.34 L213.92,466.05 L214.37,466.74 L214.82,467.40 L215.25,468.05 L215.69,468.67 L216.12,469.27 L216.54,469.85 L216.96,470.41 L217.38,470.94 L217.79,471.45 L218.20,471.94 L218.60,472.41 L219.00,472.86 L219.40,473.28 L219.80,473.68 L220.19,474.05 L220.59,474.40 L220.98,474.73 L221.37,475.03 L221.76,475.32 L222.15,475.57 L222.54,475.81 L222.93,476.02 L223.32,476.20 L223.71,476.36 L224.10,476.50 L224.49,476.62 L224.89,476.71 L225.29,476.78 L225.69,476.82 L226.09,476.84 L226.50,476.84 L226.90,476.81 L227.32,476.76 L227.74,476.68 L228.15,476.58 L228.58,476.46 L229.00,476.32 L229.42,476.15 L229.85,475.96 L230.27,475.74 L230.70,475.51 L231.12,475.25 L231.55,474.97 L231.98,474.66 L232.41,474.34 L232.84,473.99 L233.27,473.62 L233.70,473.23 L234.13,472.82 L234.56,472.38 L234.99,471.93 L235.42,471.45 L235.85,470.95 L236.28,470.44 L236.71,469.90 L237.14,469.34 L237.57,468.75 L238.00,468.15 L238.42,467.52 L238.85,466.87 L239.28,466.20 L239.70,465.51 L240.13,464.80 L240.55,464.06 L240.97,463.30 L241.39,462.51 L241.81,461.71 L242.23,460.88 L242.64,460.03 L243.05,459.15 L243.46,458.26 L243.86,457.34 L244.26,456.39 L244.66,455.43 L245.05,454.44 L245.44,453.43 L245.83,452.39 L246.22,451.33 L246.61,450.25 L246.99,449.15 L247.38,448.02 L247.76,446.87 L248.14,445.70 L248.52,444.51 L248.91,443.29 L249.29,442.06 L249.67,440.80 L250.05,439.51 L250.44,438.21 L250.82,436.89 L251.21,435.54 L251.60,434.17 L251.99,432.79 L252.39,431.38 L252.78,429.95 L253.18,428.50 L253.58,427.04 L253.99,425.55 L254.39,424.04 L254.81,422.52 L255.22,420.98 L255.64,419.42 L256.07,417.84 L256.50,416.24 L256.93,414.63 L257.37,413.00 L257.82,411.36 L258.27,409.70 L258.72,408.03 L259.17,406.34 L259.62,404.63 L260.07,402.92 L260.52,401.18 L260.97,399.44 L261.42,397.68 L261.87,395.92 L262.32,394.14 L262.77,392.34 L263.22,390.54 L263.67,388.73 L264.12,386.91 L264.57,385.09 L265.03,383.25 L265.48,381.41 L265.93,379.56 L266.38,377.70 L266.83,375.84 L267.28,373.98 L267.73,372.11 L268.18,370.23 L268.63,368.36 L269.08,366.48 L269.53,364.61 L269.98,362.73 L270.43,360.85 L270.88,358.98 L271.33,357.10 L271.78,355.23 L272.23,353.36 L272.68,351.50 L273.13,349.64 L273.58,347.79 L274.03,345.94 L274.48,344.10 L274.93,342.27 L275.39,340.45 L275.84,338.64 L276.29,336.84 L276.75,335.04 L277.23,333.27 L277.72,331.50 L278.21,329.75 L278.72,328.01 L279.23,326.28 L279.75,324.58 L280.28,322.88 L280.81,321.21 L281.34,319.55 L281.88,317.91 L282.42,316.29 L282.96,314.69 L283.50,313.11 L284.04,311.55 L284.58,310.01 L285.12,308.50 L285.65,307.00 L286.18,305.53 L286.71,304.09 L287.23,302.66 L287.74,301.26 L288.24,299.89 L288.74,298.54 L289.22,297.22 L289.70,295.93 L290.17,294.66 L290.64,293.42 L291.11,292.20 L291.57,291.02 L292.04,289.86 L292.51,288.73 L292.98,287.63 L293.44,286.56 L293.91,285.51 L294.37,284.50 L294.84,283.51 L295.30,282.56 L295.76,281.63 L296.23,280.73 L296.69,279.86 L297.15,279.03 L297.61,278.22 L298.07,277.44 L298.53,276.69 L298.98,275.97 L299.44,275.27 L299.90,274.61 L300.35,273.98 L300.80,273.37 L301.26,272.79 L301.71,272.24 L302.16,271.72 L302.61,271.23 L303.06,270.76 L303.51,270.33 L303.96,269.91 L304.41,269.53 L304.86,269.17 L305.31,268.84 L305.76,268.53 L306.21,268.24 L306.66,267.99 L307.12,267.75 L307.57,267.54 L308.02,267.35 L308.47,267.19 L308.92,267.04 L309.37,266.92 L309.82,266.82 L310.27,266.74 L310.72,266.68 L311.17,266.64 L311.62,266.62 L312.07,266.62 L312.52,266.64 L312.97,266.67 L313.42,266.73 L313.87,266.79 L314.32,266.88 L314.77,266.98 L315.22,267.09 L315.67,267.22 L316.12,267.37 L316.57,267.52 L317.03,267.69 L317.48,267.88 L317.93,268.07 L318.38,268.27 L318.83,268.49 L319.28,268.72 L319.73,268.96 L320.18,269.20 L320.63,269.46 L321.08,269.72 L321.53,269.99 L321.98,270.27 L322.43,270.56 L322.88,270.86 L323.33,271.16 L323.78,271.46 L324.23,271.78 L324.68,272.09 L325.13,272.42 L325.58,272.74 L326.03,273.08 L326.48,273.41 L326.93,273.75 L327.39,274.09 L327.84,274.44 L328.29,274.79 L328.74,275.14 L329.19,275.49 L329.64,275.84 L330.09,276.20 L330.54,276.56 L330.99,276.92 L331.44,277.28 L331.89,277.64 L332.34,278.00 L332.79,278.36 L333.24,278.72 L333.69,279.08 L334.14,279.44 L334.59,279.80 L335.04,280.16 L335.49,280.52 L335.94,280.88 L336.39,281.24 L336.84,281.60 L337.30,281.96 L337.75,282.31 L338.20,282.67 L338.65,283.02 L339.10,283.37 L339.55,283.72 L340.00,284.07 L340.45,284.41 L340.90,284.76 L341.35,285.11 L341.80,285.46 L342.25,285.81 L342.70,286.16 L343.15,286.51 L343.60,286.86 L344.05,287.21 L344.50,287.57 L344.95,287.92 L345.40,288.27 L345.85,288.62 L346.30,288.97 L346.75,289.31 L347.21,289.66 L347.66,290.01 L348.11,290.36 L348.56,290.70 L349.01,291.04 L349.46,291.38 L349.91,291.72 L350.36,292.06 L350.81,292.40 L351.26,292.73 L351.71,293.07 L352.16,293.40 L352.61,293.72 L353.06,294.05 L353.51,294.37 L353.96,294.69 L354.41,295.01 L354.86,295.33 L355.31,295.64 L355.76,295.95 L356.21,296.26 L356.66,296.56 L357.12,296.86 L357.57,297.16 L358.02,297.45 L358.47,297.74 L358.92,298.03 L359.37,298.31 L359.82,298.59 L360.27,298.86 L360.72,299.13 L361.17,299.40 L361.62,299.66 L362.07,299.92 L362.52,300.17 L362.97,300.42 L363.42,300.67 L363.87,300.90 L364.32,301.14 L364.77,301.37 L365.22,301.59 L365.67,301.82 L366.12,302.03 L366.57,302.25 L367.02,302.46 L367.48,302.67 L367.93,302.88 L368.38,303.08 L368.83,303.28 L369.28,303.47 L369.73,303.67 L370.18,303.86 L370.63,304.05 L371.08,304.23 L371.53,304.42 L371.98,304.60 L372.43,304.77 L372.88,304.95 L373.33,305.12 L373.78,305.29 L374.23,305.46 L374.68,305.63 L375.13,305.79 L375.58,305.95 L376.03,306.11 L376.48,306.27 L376.93,306.42 L377.39,306.57 L377.84,306.73 L378.29,306.87 L378.74,307.02 L379.19,307.17 L379.64,307.31 L380.09,307.45 L380.54,307.59 L380.99,307.73 L381.44,307.87 L381.89,308.01 L382.34,308.14 L382.79,308.27 L383.24,308.41 L383.69,308.54 L384.14,308.67 L384.59,308.79 L385.04,308.92 L385.49,309.05 L385.94,309.17 L386.39,309.29 L386.84,309.42 L387.30,309.54 L387.75,309.66 L388.20,309.78 L388.65,309.90 L389.10,310.02 L389.55,310.14 L390.00,310.26 L390.45,310.37 L390.90,310.49 L391.35,310.60 L391.80,310.72 L392.25,310.83 L392.70,310.94 L393.15,311.05 L393.60,311.16 L394.05,311.26 L394.50,311.37 L394.95,311.47 L395.40,311.58 L395.85,311.68 L396.30,311.78 L396.75,311.88 L397.21,311.98 L397.66,312.08 L398.11,312.17 L398.56,312.27 L399.01,312.36 L399.46,312.46 L399.91,312.55 L400.36,312.64 L400.81,312.73 L401.26,312.82 L401.71,312.91 L402.16,312.99 L402.61,313.08 L403.06,313.16 L403.51,313.25 L403.96,313.33 L404.41,313.41 L404.86,313.50 L405.31,313.58 L405.76,313.65 L406.21,313.73 L406.66,313.81 L407.12,313.89 L407.57,313.96 L408.02,314.04 L408.47,314.11 L408.92,314.19 L409.37,314.26 L409.82,314.33 L410.27,314.40 L410.72,314.47 L411.17,314.54 L411.62,314.61 L412.07,314.67 L412.52,314.74 L412.97,314.81 L413.42,314.87 L413.87,314.94 L414.32,315.00 L414.77,315.06 L415.22,315.12 L415.67,315.19 L416.12,315.25 L416.57,315.31 L417.02,315.37 L417.48,315.42 L417.93,315.48 L418.38,315.54 L418.83,315.59 L419.28,315.65 L419.73,315.70 L420.18,315.76 L420.63,315.81 L421.08,315.86 L421.53,315.92 L421.98,315.97 L422.43,316.02 L422.88,316.07 L423.33,316.12 L423.78,316.16 L424.23,316.21 L424.68,316.26 L425.13,316.31 L425.58,316.35 L426.03,316.40 L426.48,316.44 L426.93,316.49 L427.39,316.53 L427.84,316.57 L428.29,316.62 L428.74,316.66 L429.19,316.70 L429.64,316.74 L430.09,316.78 L430.54,316.82 L430.99,316.86 L431.44,316.90 L431.89,316.94 L432.34,316.98 L432.79,317.01 L433.24,317.05 L433.69,317.09 L434.14,317.12 L434.59,317.16 L435.04,317.20 L435.49,317.23 L435.94,317.26 L436.39,317.30 L436.84,317.33 L437.30,317.36 L437.75,317.40 L438.20,317.43 L438.65,317.46 L439.10,317.49 L439.55,317.52 L440.00,317.55 L440.45,317.58 L440.90,317.61 L441.35,317.64 L441.80,317.67 L442.25,317.70 L442.70,317.73 L443.15,317.76 L443.60,317.79 L444.05,317.81 L444.50,317.84 L444.95,317.87 L445.40,317.89 L445.85,317.92 L446.30,317.95 L446.75,317.97 L447.21,318.00 L447.66,318.02 L448.11,318.05 L448.56,318.07 L449.01,318.09 L449.46,318.12 L449.91,318.14 L450.36,318.17 L450.81,318.19 L451.26,318.21 L451.71,318.23 L452.16,318.26" fill="none" stroke="#ff0000" stroke-width="1.65" stroke-linejoin="round"/>
<path d="M91.80,320.00 L92.25,320.00 L92.70,320.00 L93.15,320.00 L93.60,320.00 L94.05,320.00 L94.50,320.00 L94.95,320.00 L95.40,320.00 L95.85,320.00 L96.30,320.00 L96.75,320.00 L97.21,320.00 L97.66,320.00 L98.11,320.00 L98.56,320.00 L99.01,320.00 L99.46,320.00 L99.91,320.00 L100.36,320.00 L100.81,320.00 L101.26,320.00 L101.71,320.00 L102.16,320.00 L102.61,320.00 L103.06,320.00 L103.51,320.00 L103.96,320.00 L104.41,320.00 L104.86,320.00 L105.31,320.00 L105.76,320.00 L106.21,320.00 L106.66,320.00 L107.12,320.00 L107.57,320.00 L108.02,320.00 L108.47,320.01 L108.92,320.01 L109.37,320.01 L109.82,320.01 L110.27,320.01 L110.72,320.01 L111.17,320.02 L111.62,320.02 L112.07,320.02 L112.52,320.02 L112.97,320.03 L113.42,320.03 L113.87,320.03 L114.32,320.04 L114.77,320.04 L115.22,320.05 L115.67,320.06 L116.12,320.06 L116.57,320.07 L117.03,320.08 L117.48,320.09 L117.93,320.10 L118.38,320.11 L118.83,320.12 L119.28,320.14 L119.73,320.15 L120.18,320.17 L120.63,320.18 L121.08,320.20 L121.53,320.22 L121.98,320.24 L122.43,320.27 L122.88,320.29 L123.33,320.32 L123.78,320.35 L124.23,320.38 L124.68,320.41 L125.13,320.45 L125.58,320.48 L126.03,320.52 L126.48,320.57 L126.94,320.61 L127.39,320.66 L127.84,320.71 L128.29,320.76 L128.74,320.82 L129.19,320.88 L129.64,320.95 L130.09,321.02 L130.54,321.09 L130.99,321.16 L131.44,321.24 L131.89,321.33 L132.34,321.42 L132.79,321.51 L133.24,321.61 L133.69,321.71 L134.14,321.82 L134.59,321.93 L135.04,322.05 L135.49,322.18 L135.94,322.31 L136.39,322.44 L136.84,322.59 L137.30,322.74 L137.75,322.89 L138.20,323.05 L138.65,323.22 L139.10,323.40 L139.55,323.58 L140.00,323.77 L140.45,323.97 L140.90,324.17 L141.35,324.39 L141.80,324.61 L142.25,324.84 L142.70,325.08 L143.15,325.33 L143.60,325.58 L144.05,325.85 L144.50,326.12 L144.95,326.40 L145.40,326.70 L145.85,327.00 L146.30,327.31 L146.75,327.64 L147.21,327.97 L147.66,328.31 L148.11,328.66 L148.56,329.03 L149.01,329.40 L149.46,329.79 L149.91,330.19 L150.36,330.60 L150.81,331.02 L151.26,331.45 L151.71,331.89 L152.16,332.35 L152.61,332.81 L153.06,333.29 L153.51,333.78 L153.96,334.29 L154.41,334.80 L154.86,335.33 L155.31,335.87 L155.76,336.42 L156.21,336.99 L156.66,337.57 L157.12,338.16 L157.57,338.76 L158.02,339.38 L158.47,340.01 L158.93,340.66 L159.39,341.31 L159.86,341.98 L160.32,342.67 L160.80,343.36 L161.27,344.07 L161.75,344.79 L162.23,345.53 L162.71,346.28 L163.20,347.04 L163.68,347.82 L164.17,348.60 L164.66,349.41 L165.15,350.22 L165.65,351.05 L166.14,351.89 L166.63,352.74 L167.13,353.61 L167.62,354.49 L168.12,355.38 L168.61,356.28 L169.10,357.20 L169.60,358.13 L170.09,359.07 L170.58,360.02 L171.07,360.99 L171.56,361.97 L172.05,362.95 L172.53,363.96 L173.02,364.97 L173.50,365.99 L173.98,367.02 L174.45,368.07 L174.92,369.12 L175.39,370.19 L175.86,371.26 L176.32,372.35 L176.78,373.45 L177.24,374.55 L177.69,375.67 L178.14,376.79 L178.60,377.92 L179.05,379.07 L179.51,380.22 L179.96,381.37 L180.41,382.54 L180.87,383.71 L181.32,384.89 L181.77,386.08 L182.23,387.28 L182.68,388.48 L183.13,389.69 L183.59,390.90 L184.04,392.12 L184.49,393.34 L184.95,394.57 L185.40,395.81 L185.85,397.04 L186.30,398.29 L186.76,399.53 L187.21,400.78 L187.66,402.04 L188.11,403.29 L188.57,404.55 L189.02,405.81 L189.47,407.07 L189.92,408.33 L190.38,409.59 L190.83,410.86 L191.28,412.12 L191.73,413.39 L192.18,414.65 L192.64,415.91 L193.09,417.18 L193.54,418.44 L193.99,419.70 L194.44,420.95 L194.89,422.21 L195.35,423.46 L195.80,424.70 L196.25,425.95 L196.70,427.19 L197.15,428.42 L197.60,429.66 L198.05,430.88 L198.50,432.10 L198.95,433.32 L199.41,434.52 L199.86,435.73 L200.31,436.92 L200.76,438.11 L201.21,439.29 L201.66,440.46 L202.11,441.63 L202.55,442.78 L203.00,443.93 L203.44,445.07 L203.89,446.20 L204.33,447.31 L204.77,448.42 L205.21,449.52 L205.65,450.61 L206.09,451.68 L206.52,452.75 L206.96,453.80 L207.39,454.84 L207.83,455.87 L208.26,456.89 L208.70,457.89 L209.13,458.88 L209.56,459.86 L209.99,460.82 L210.42,461.77 L210.85,462.71 L211.28,463.63 L211.71,464.54 L212.14,465.43 L212.57,466.30 L213.00,467.16 L213.42,468.01 L213.85,468.84 L214.28,469.65 L214.71,470.45 L215.13,471.23 L215.56,472.00 L215.99,472.75 L216.42,473.48 L216.84,474.19 L217.27,474.89 L217.70,475.57 L218.13,476.23 L218.56,476.87 L218.99,477.50 L219.42,478.11 L219.85,478.70 L220.28,479.27 L220.71,479.83 L221.14,480.36 L221.57,480.88 L222.00,481.38 L222.43,481.86 L222.86,482.32 L223.29,482.76 L223.72,483.19 L224.14,483.59 L224.57,483.98 L225.00,484.34 L225.42,484.69 L225.85,485.02 L226.27,485.33 L226.70,485.62 L227.13,485.89 L227.55,486.14 L227.98,486.37 L228.41,486.59 L228.84,486.78 L229.27,486.96 L229.70,487.11 L230.14,487.25 L230.58,487.37 L231.01,487.47 L231.45,487.55 L231.90,487.61 L232.34,487.65 L232.79,487.68 L233.24,487.68 L233.69,487.67 L234.14,487.64 L234.59,487.59 L235.04,487.51 L235.49,487.42 L235.94,487.31 L236.39,487.18 L236.84,487.03 L237.30,486.86 L237.75,486.67 L238.20,486.46 L238.65,486.23 L239.10,485.98 L239.55,485.70 L240.00,485.41 L240.45,485.09 L240.90,484.75 L241.35,484.39 L241.80,484.00 L242.25,483.60 L242.70,483.17 L243.15,482.72 L243.60,482.25 L244.05,481.75 L244.50,481.23 L244.95,480.69 L245.40,480.13 L245.85,479.54 L246.30,478.94 L246.75,478.30 L247.21,477.65 L247.66,476.97 L248.11,476.27 L248.56,475.55 L249.01,474.80 L249.46,474.03 L249.91,473.24 L250.36,472.43 L250.81,471.59 L251.26,470.73 L251.71,469.85 L252.16,468.94 L252.61,468.01 L253.06,467.06 L253.51,466.09 L253.96,465.10 L254.41,464.09 L254.86,463.05 L255.31,461.99 L255.76,460.91 L256.21,459.82 L256.66,458.70 L257.12,457.56 L257.57,456.40 L258.02,455.22 L258.47,454.02 L258.92,452.81 L259.37,451.57 L259.82,450.32 L260.27,449.05 L260.72,447.76 L261.17,446.45 L261.62,445.13 L262.07,443.79 L262.52,442.44 L262.97,441.07 L263.42,439.68 L263.87,438.29 L264.32,436.88 L264.77,435.45 L265.22,434.01 L265.67,432.56 L266.12,431.10 L266.57,429.63 L267.03,428.15 L267.48,426.66 L267.93,425.16 L268.38,423.65 L268.83,422.13 L269.28,420.61 L269.73,419.08 L270.18,417.54 L270.63,416.00 L271.08,414.45 L271.53,412.90 L271.98,411.35 L272.43,409.79 L272.88,408.23 L273.32,406.67 L273.77,405.11 L274.21,403.56 L274.65,402.00 L275.10,400.44 L275.54,398.89 L275.97,397.34 L276.41,395.79 L276.85,394.25 L277.28,392.71 L277.72,391.18 L278.15,389.65 L278.58,388.14 L279.01,386.63 L279.44,385.13 L279.87,383.63 L280.30,382.15 L280.73,380.68 L281.16,379.22 L281.59,377.77 L282.01,376.34 L282.44,374.92 L282.87,373.51 L283.29,372.11 L283.72,370.73 L284.14,369.37 L284.57,368.02 L284.99,366.69 L285.42,365.37 L285.84,364.07 L286.27,362.79 L286.70,361.53 L287.12,360.28 L287.55,359.06 L287.97,357.85 L288.40,356.66 L288.83,355.49 L289.26,354.35 L289.69,353.22 L290.11,352.12 L290.54,351.03 L290.98,349.97 L291.41,348.92 L291.84,347.90 L292.27,346.90 L292.71,345.92 L293.14,344.97 L293.58,344.03 L294.01,343.12 L294.45,342.23 L294.89,341.36 L295.33,340.51 L295.77,339.69 L296.22,338.88 L296.66,338.10 L297.11,337.34 L297.56,336.60 L298.01,335.88 L298.46,335.19 L298.91,334.51 L299.37,333.85 L299.83,333.22 L300.29,332.60 L300.76,332.01 L301.22,331.43 L301.69,330.87 L302.16,330.33 L302.63,329.81 L303.10,329.31 L303.58,328.83 L304.05,328.36 L304.53,327.91 L305.01,327.48 L305.49,327.06 L305.97,326.66 L306.45,326.27 L306.93,325.90 L307.41,325.55 L307.89,325.21 L308.37,324.88 L308.86,324.56 L309.34,324.26 L309.82,323.97 L310.30,323.69 L310.79,323.42 L311.27,323.17 L311.75,322.92 L312.23,322.69 L312.71,322.46 L313.19,322.24 L313.66,322.04 L314.14,321.84 L314.62,321.65 L315.09,321.46 L315.56,321.29 L316.03,321.12 L316.50,320.96 L316.97,320.80 L317.43,320.65 L317.90,320.51 L318.36,320.37 L318.82,320.24 L319.27,320.11 L319.73,319.99 L320.18,319.87 L320.63,319.76 L321.08,319.65 L321.53,319.55 L321.98,319.45 L322.43,319.35 L322.88,319.26 L323.33,319.17 L323.78,319.09 L324.23,319.00 L324.68,318.93 L325.13,318.85 L325.58,318.78 L326.03,318.71 L326.48,318.65 L326.93,318.59 L327.39,318.53 L327.84,318.47 L328.29,318.42 L328.74,318.37 L329.19,318.32 L329.64,318.28 L330.09,318.23 L330.54,318.19 L330.99,318.16 L331.44,318.12 L331.89,318.09 L332.34,318.06 L332.79,318.03 L333.24,318.00 L333.69,317.98 L334.14,317.96 L334.59,317.93 L335.04,317.91 L335.49,317.90 L335.94,317.88 L336.39,317.87 L336.84,317.85 L337.30,317.84 L337.75,317.83 L338.20,317.82 L338.65,317.81 L339.10,317.80 L339.55,317.80 L340.00,317.79 L340.45,317.79 L340.90,317.78 L341.35,317.78 L341.80,317.78 L342.25,317.78 L342.70,317.77 L343.15,317.77 L343.60,317.77 L344.05,317.77 L344.50,317.77 L344.95,317.77 L345.40,317.78 L345.85,317.78 L346.30,317.78 L346.75,317.78 L347.21,317.78 L347.66,317.79 L348.11,317.79 L348.56,317.79 L349.01,317.80 L349.46,317.80 L349.91,317.81 L350.36,317.81 L350.81,317.82 L351.26,317.82 L351.71,317.83 L352.16,317.84 L352.61,317.84 L353.06,317.85 L353.51,317.86 L353.96,317.87 L354.41,317.87 L354.86,317.88 L355.31,317.89 L355.76,317.90 L356.21,317.91 L356.66,317.91 L357.12,317.92 L357.57,317.93 L358.02,317.94 L358.47,317.95 L358.92,317.96 L359.37,317.97 L359.82,317.98 L360.27,317.99 L360.72,318.00 L361.17,318.01 L361.62,318.02 L362.07,318.03 L362.52,318.04 L362.97,318.05 L363.42,318.06 L363.87,318.07 L364.32,318.08 L364.77,318.09 L365.22,318.10 L365.67,318.11 L366.12,318.12 L366.57,318.13 L367.02,318.14 L367.48,318.15 L367.93,318.16 L368.38,318.17 L368.83,318.18 L369.28,318.18 L369.73,318.19 L370.18,318.20 L370.63,318.21 L371.08,318.22 L371.53,318.23 L371.98,318.24 L372.43,318.25 L372.88,318.26 L373.33,318.27 L373.78,318.28 L374.23,318.29 L374.68,318.29 L375.13,318.30 L375.58,318.31 L376.03,318.32 L376.48,318.33 L376.93,318.33 L377.39,318.34 L377.84,318.35 L378.29,318.36 L378.74,318.36 L379.19,318.37 L379.64,318.38 L380.09,318.39 L380.54,318.39 L380.99,318.40 L381.44,318.41 L381.89,318.42 L382.34,318.42 L382.79,318.43 L383.24,318.44 L383.69,318.44 L384.14,318.45 L384.59,318.46 L385.04,318.46 L385.49,318.47 L385.94,318.48 L386.39,318.48 L386.84,318.49 L387.30,318.50 L387.75,318.50 L388.20,318.51 L388.65,318.52 L389.10,318.52 L389.55,318.53 L390.00,318.54 L390.45,318.54 L390.90,318.55 L391.35,318.56 L391.80,318.56 L392.25,318.57 L392.70,318.57 L393.15,318.58 L393.60,318.59 L394.05,318.59 L394.50,318.60 L394.95,318.61 L395.40,318.61 L395.85,318.62 L396.30,318.62 L396.75,318.63 L397.21,318.64 L397.66,318.64 L398.11,318.65 L398.56,318.66 L399.01,318.66 L399.46,318.67 L399.91,318.67 L400.36,318.68 L400.81,318.69 L401.26,318.69 L401.71,318.70 L402.16,318.71 L402.61,318.71 L403.06,318.72 L403.51,318.72 L403.96,318.73 L404.41,318.74 L404.86,318.74 L405.31,318.75 L405.76,318.76 L406.21,318.76 L406.66,318.77 L407.12,318.77 L407.57,318.78 L408.02,318.79 L408.47,318.79 L408.92,318.80 L409.37,318.81 L409.82,318.81 L410.27,318.82 L410.72,318.82 L411.17,318.83 L411.62,318.84 L412.07,318.84 L412.52,318.85 L412.97,318.86 L413.42,318.86 L413.87,318.87 L414.32,318.88 L414.77,318.88 L415.22,318.89 L415.67,318.89 L416.12,318.90 L416.57,318.91 L417.02,318.91 L417.48,318.92 L417.93,318.93 L418.38,318.93 L418.83,318.94 L419.28,318.94 L419.73,318.95 L420.18,318.96 L420.63,318.96 L421.08,318.97 L421.53,318.98 L421.98,318.98 L422.43,318.99 L422.88,318.99 L423.33,319.00 L423.78,319.01 L424.23,319.01 L424.68,319.02 L425.13,319.03 L425.58,319.03 L426.03,319.04 L426.48,319.04 L426.93,319.05 L427.39,319.06 L427.84,319.06 L428.29,319.07 L428.74,319.07 L429.19,319.08 L429.64,319.09 L430.09,319.09 L430.54,319.10 L430.99,319.11 L431.44,319.11 L431.89,319.12 L432.34,319.12 L432.79,319.13 L433.24,319.14 L433.69,319.14 L434.14,319.15 L434.59,319.15 L435.04,319.16 L435.49,319.17 L435.94,319.17 L436.39,319.18 L436.84,319.18 L437.30,319.19 L437.75,319.20 L438.20,319.20 L438.65,319.21 L439.10,319.21 L439.55,319.22 L440.00,319.23 L440.45,319.23 L440.90,319.24 L441.35,319.24 L441.80,319.25 L442.25,319.26 L442.70,319.26 L443.15,319.27 L443.60,319.27 L444.05,319.28 L444.50,319.29 L444.95,319.29 L445.40,319.30 L445.85,319.30 L446.30,319.31 L446.75,319.32 L447.21,319.32 L447.66,319.33 L448.11,319.33 L448.56,319.34 L449.01,319.35 L449.46,319.35 L449.91,319.36 L450.36,319.36 L450.81,319.37 L451.26,319.38 L451.71,319.38 L452.16,319.39" fill="none" stroke="#ff0000" stroke-width="1.65" stroke-dasharray="3.3,2.3" stroke-linejoin="round"/>
<path d="M91.80,320.00 L92.25,320.00 L92.70,320.00 L93.15,320.00 L93.60,320.00 L94.05,320.00 L94.50,320.00 L94.95,320.00 L95.40,320.00 L95.85,320.00 L96.30,320.00 L96.75,320.00 L97.21,320.00 L97.66,320.00 L98.11,319.99 L98.56,319.99 L99.01,319.99 L99.46,319.99 L99.91,319.99 L100.36,319.98 L100.81,319.98 L101.26,319.98 L101.71,319.97 L102.16,319.97 L102.61,319.97 L103.06,319.96 L103.51,319.96 L103.96,319.95 L104.41,319.95 L104.86,319.94 L105.31,319.94 L105.76,319.93 L106.21,319.93 L106.66,319.92 L107.12,319.91 L107.57,319.90 L108.02,319.90 L108.47,319.89 L108.92,319.88 L109.37,319.87 L109.82,319.87 L110.27,319.86 L110.72,319.85 L111.17,319.84 L111.62,319.83 L112.07,319.82 L112.52,319.82 L112.97,319.81 L113.42,319.80 L113.87,319.79 L114.32,319.78 L114.77,319.78 L115.22,319.77 L115.67,319.76 L116.12,319.76 L116.57,319.75 L117.03,319.75 L117.48,319.74 L117.93,319.74 L118.38,319.74 L118.83,319.73 L119.28,319.73 L119.73,319.73 L120.18,319.73 L120.63,319.73 L121.08,319.74 L121.53,319.74 L121.98,319.75 L122.43,319.76 L122.88,319.77 L123.33,319.78 L123.78,319.79 L124.23,319.80 L124.68,319.82 L125.13,319.84 L125.58,319.86 L126.03,319.88 L126.48,319.91 L126.94,319.94 L127.39,319.97 L127.84,320.01 L128.29,320.04 L128.74,320.08 L129.19,320.13 L129.64,320.17 L130.09,320.22 L130.54,320.28 L130.99,320.34 L131.44,320.40 L131.89,320.46 L132.34,320.53 L132.79,320.61 L133.24,320.69 L133.69,320.77 L134.14,320.86 L134.59,320.95 L135.04,321.05 L135.49,321.15 L135.94,321.26 L136.39,321.37 L136.84,321.49 L137.30,321.61 L137.75,321.74 L138.20,321.88 L138.65,322.02 L139.10,322.17 L139.55,322.33 L140.00,322.49 L140.45,322.66 L140.90,322.83 L141.35,323.01 L141.80,323.20 L142.25,323.40 L142.70,323.60 L143.15,323.82 L143.60,324.03 L144.05,324.26 L144.50,324.50 L144.95,324.74 L145.40,324.99 L145.85,325.25 L146.30,325.52 L146.75,325.79 L147.21,326.08 L147.66,326.37 L148.11,326.68 L148.56,326.99 L149.01,327.31 L149.46,327.64 L149.91,327.98 L150.36,328.33 L150.81,328.68 L151.26,329.05 L151.71,329.43 L152.16,329.82 L152.61,330.21 L153.07,330.62 L153.53,331.04 L153.99,331.47 L154.45,331.90 L154.91,332.35 L155.38,332.81 L155.85,333.28 L156.32,333.75 L156.79,334.24 L157.26,334.74 L157.73,335.25 L158.21,335.77 L158.68,336.30 L159.16,336.84 L159.64,337.39 L160.12,337.95 L160.60,338.53 L161.08,339.11 L161.56,339.70 L162.04,340.31 L162.53,340.92 L163.01,341.54 L163.49,342.18 L163.98,342.82 L164.46,343.48 L164.94,344.15 L165.43,344.82 L165.91,345.51 L166.40,346.20 L166.88,346.91 L167.36,347.63 L167.84,348.35 L168.32,349.09 L168.81,349.83 L169.28,350.58 L169.76,351.35 L170.24,352.12 L170.72,352.90 L171.20,353.69 L171.67,354.49 L172.15,355.30 L172.64,356.12 L173.12,356.94 L173.60,357.77 L174.09,358.62 L174.57,359.46 L175.06,360.32 L175.54,361.19 L176.03,362.06 L176.51,362.93 L177.00,363.82 L177.48,364.71 L177.96,365.61 L178.44,366.51 L178.92,367.42 L179.40,368.34 L179.88,369.26 L180.35,370.18 L180.82,371.12 L181.29,372.05 L181.76,372.99 L182.22,373.94 L182.68,374.88 L183.14,375.84 L183.59,376.79 L184.04,377.75 L184.48,378.71 L184.93,379.67 L185.37,380.64 L185.80,381.60 L186.24,382.57 L186.67,383.54 L187.10,384.51 L187.53,385.48 L187.96,386.46 L188.39,387.43 L188.81,388.40 L189.24,389.37 L189.66,390.34 L190.09,391.30 L190.51,392.27 L190.94,393.23 L191.36,394.19 L191.79,395.15 L192.22,396.11 L192.65,397.06 L193.07,398.01 L193.51,398.95 L193.94,399.89 L194.37,400.82 L194.81,401.75 L195.25,402.68 L195.69,403.59 L196.13,404.51 L196.57,405.41 L197.01,406.31 L197.45,407.20 L197.89,408.08 L198.33,408.96 L198.77,409.82 L199.21,410.68 L199.65,411.53 L200.09,412.37 L200.53,413.20 L200.97,414.02 L201.41,414.83 L201.86,415.63 L202.30,416.41 L202.74,417.19 L203.19,417.95 L203.63,418.71 L204.08,419.45 L204.52,420.17 L204.97,420.89 L205.42,421.59 L205.87,422.28 L206.31,422.95 L206.76,423.62 L207.21,424.26 L207.67,424.89 L208.12,425.51 L208.58,426.11 L209.03,426.70 L209.49,427.27 L209.95,427.82 L210.42,428.36 L210.88,428.89 L211.34,429.39 L211.81,429.88 L212.27,430.35 L212.74,430.81 L213.21,431.25 L213.67,431.67 L214.14,432.07 L214.61,432.45 L215.08,432.82 L215.55,433.17 L216.02,433.50 L216.49,433.81 L216.95,434.10 L217.42,434.38 L217.89,434.63 L218.36,434.87 L218.83,435.09 L219.30,435.29 L219.76,435.46 L220.23,435.62 L220.69,435.76 L221.16,435.88 L221.62,435.99 L222.08,436.07 L222.55,436.13 L223.01,436.17 L223.46,436.19 L223.92,436.20 L224.38,436.18 L224.83,436.14 L225.28,436.09 L225.73,436.01 L226.18,435.91 L226.62,435.80 L227.07,435.66 L227.51,435.51 L227.94,435.34 L228.38,435.15 L228.81,434.93 L229.25,434.70 L229.68,434.45 L230.11,434.18 L230.53,433.90 L230.96,433.59 L231.38,433.26 L231.81,432.92 L232.23,432.56 L232.65,432.18 L233.07,431.78 L233.49,431.35 L233.91,430.92 L234.33,430.46 L234.74,429.98 L235.16,429.48 L235.58,428.96 L236.00,428.42 L236.41,427.87 L236.83,427.29 L237.25,426.69 L237.66,426.07 L238.08,425.44 L238.50,424.78 L238.92,424.10 L239.34,423.40 L239.76,422.69 L240.18,421.95 L240.60,421.19 L241.03,420.41 L241.45,419.62 L241.88,418.80 L242.31,417.97 L242.74,417.11 L243.16,416.24 L243.59,415.34 L244.02,414.43 L244.44,413.50 L244.87,412.55 L245.30,411.58 L245.72,410.59 L246.15,409.58 L246.57,408.56 L247.00,407.52 L247.42,406.46 L247.85,405.38 L248.28,404.29 L248.71,403.18 L249.14,402.05 L249.57,400.91 L250.00,399.74 L250.43,398.57 L250.87,397.37 L251.30,396.17 L251.74,394.94 L252.18,393.70 L252.62,392.45 L253.07,391.18 L253.51,389.90 L253.96,388.60 L254.41,387.30 L254.86,385.97 L255.31,384.64 L255.76,383.29 L256.21,381.94 L256.66,380.57 L257.12,379.19 L257.57,377.80 L258.02,376.40 L258.47,374.99 L258.92,373.58 L259.37,372.15 L259.82,370.72 L260.27,369.28 L260.72,367.84 L261.17,366.38 L261.62,364.93 L262.07,363.46 L262.52,362.00 L262.97,360.53 L263.42,359.06 L263.87,357.58 L264.32,356.10 L264.77,354.63 L265.22,353.15 L265.67,351.67 L266.12,350.19 L266.57,348.71 L267.03,347.24 L267.48,345.77 L267.93,344.30 L268.38,342.84 L268.83,341.38 L269.28,339.92 L269.73,338.47 L270.18,337.03 L270.63,335.59 L271.08,334.17 L271.53,332.75 L271.98,331.34 L272.43,329.94 L272.88,328.55 L273.33,327.17 L273.78,325.80 L274.23,324.44 L274.68,323.10 L275.13,321.77 L275.58,320.45 L276.03,319.15 L276.48,317.86 L276.93,316.59 L277.39,315.33 L277.84,314.09 L278.29,312.86 L278.74,311.66 L279.19,310.47 L279.64,309.30 L280.09,308.14 L280.54,307.01 L280.99,305.90 L281.44,304.80 L281.89,303.73 L282.34,302.67 L282.79,301.64 L283.24,300.63 L283.69,299.64 L284.14,298.67 L284.59,297.72 L285.04,296.80 L285.49,295.89 L285.94,295.01 L286.39,294.15 L286.84,293.32 L287.30,292.50 L287.75,291.71 L288.20,290.95 L288.65,290.20 L289.10,289.48 L289.55,288.79 L290.00,288.11 L290.45,287.46 L290.90,286.83 L291.35,286.23 L291.80,285.64 L292.25,285.09 L292.70,284.55 L293.15,284.04 L293.60,283.55 L294.05,283.08 L294.50,282.63 L294.95,282.21 L295.40,281.80 L295.85,281.42 L296.30,281.06 L296.75,280.73 L297.21,280.41 L297.66,280.11 L298.11,279.83 L298.56,279.58 L299.01,279.34 L299.46,279.12 L299.91,278.93 L300.36,278.75 L300.81,278.59 L301.26,278.44 L301.71,278.32 L302.16,278.21 L302.61,278.12 L303.06,278.04 L303.51,277.98 L303.96,277.94 L304.41,277.91 L304.86,277.90 L305.31,277.90 L305.76,277.92 L306.21,277.95 L306.66,277.99 L307.12,278.05 L307.57,278.11 L308.02,278.19 L308.47,278.29 L308.92,278.39 L309.37,278.50 L309.82,278.63 L310.27,278.76 L310.72,278.91 L311.17,279.06 L311.62,279.23 L312.07,279.40 L312.52,279.58 L312.97,279.76 L313.42,279.96 L313.87,280.16 L314.32,280.37 L314.77,280.59 L315.22,280.81 L315.67,281.03 L316.12,281.27 L316.57,281.50 L317.03,281.75 L317.48,281.99 L317.93,282.24 L318.38,282.50 L318.83,282.76 L319.28,283.02 L319.73,283.28 L320.18,283.55 L320.63,283.82 L321.08,284.10 L321.53,284.37 L321.98,284.65 L322.43,284.93 L322.88,285.21 L323.33,285.49 L323.78,285.77 L324.23,286.06 L324.68,286.34 L325.13,286.63 L325.58,286.91 L326.03,287.20 L326.48,287.49 L326.93,287.77 L327.39,288.06 L327.84,288.34 L328.29,288.63 L328.74,288.92 L329.19,289.20 L329.64,289.48 L330.09,289.77 L330.54,290.05 L330.99,290.33 L331.44,290.61 L331.89,290.89 L332.34,291.17 L332.79,291.45 L333.24,291.72 L333.69,292.00 L334.14,292.27 L334.59,292.54 L335.04,292.81 L335.49,293.08 L335.94,293.35 L336.39,293.61 L336.84,293.88 L337.30,294.14 L337.75,294.40 L338.20,294.66 L338.65,294.91 L339.10,295.17 L339.55,295.42 L340.00,295.67 L340.45,295.92 L340.90,296.17 L341.35,296.43 L341.80,296.68 L342.25,296.93 L342.70,297.18 L343.15,297.44 L343.60,297.69 L344.05,297.94 L344.50,298.20 L344.95,298.45 L345.40,298.70 L345.85,298.96 L346.30,299.21 L346.75,299.46 L347.21,299.71 L347.66,299.96 L348.11,300.21 L348.56,300.46 L349.01,300.71 L349.46,300.96 L349.91,301.20 L350.36,301.45 L350.81,301.69 L351.26,301.93 L351.71,302.17 L352.16,302.41 L352.61,302.65 L353.06,302.88 L353.51,303.11 L353.96,303.35 L354.41,303.57 L354.86,303.80 L355.31,304.03 L355.76,304.25 L356.21,304.47 L356.66,304.68 L357.12,304.90 L357.57,305.11 L358.02,305.32 L358.47,305.53 L358.92,305.73 L359.37,305.93 L359.82,306.13 L360.27,306.32 L360.72,306.51 L361.17,306.70 L361.62,306.88 L362.07,307.06 L362.52,307.24 L362.97,307.41 L363.42,307.58 L363.87,307.74 L364.32,307.90 L364.77,308.06 L365.22,308.21 L365.67,308.36 L366.12,308.51 L366.57,308.66 L367.02,308.80 L367.48,308.94 L367.93,309.09 L368.38,309.23 L368.83,309.36 L369.28,309.50 L369.73,309.63 L370.18,309.77 L370.63,309.90 L371.08,310.03 L371.53,310.16 L371.98,310.28 L372.43,310.41 L372.88,310.53 L373.33,310.65 L373.78,310.77 L374.23,310.89 L374.68,311.01 L375.13,311.12 L375.58,311.24 L376.03,311.35 L376.48,311.46 L376.93,311.57 L377.39,311.68 L377.84,311.79 L378.29,311.90 L378.74,312.00 L379.19,312.10 L379.64,312.21 L380.09,312.31 L380.54,312.41 L380.99,312.50 L381.44,312.60 L381.89,312.70 L382.34,312.79 L382.79,312.88 L383.24,312.98 L383.69,313.07 L384.14,313.16 L384.59,313.25 L385.04,313.33 L385.49,313.42 L385.94,313.51 L386.39,313.59 L386.84,313.67 L387.30,313.76 L387.75,313.84 L388.20,313.92 L388.65,314.00 L389.10,314.07 L389.55,314.15 L390.00,314.23 L390.45,314.30 L390.90,314.37 L391.35,314.45 L391.80,314.51 L392.25,314.58 L392.70,314.65 L393.15,314.71 L393.60,314.77 L394.05,314.83 L394.50,314.89 L394.95,314.95 L395.40,315.01 L395.85,315.06 L396.30,315.12 L396.75,315.17 L397.21,315.22 L397.66,315.27 L398.11,315.32 L398.56,315.37 L399.01,315.41 L399.46,315.46 L399.91,315.50 L400.36,315.55 L400.81,315.59 L401.26,315.63 L401.71,315.67 L402.16,315.71 L402.61,315.75 L403.06,315.79 L403.51,315.83 L403.96,315.87 L404.41,315.91 L404.86,315.94 L405.31,315.98 L405.76,316.02 L406.21,316.05 L406.66,316.09 L407.12,316.13 L407.57,316.16 L408.02,316.20 L408.47,316.23 L408.92,316.27 L409.37,316.30 L409.82,316.34 L410.27,316.37 L410.72,316.41 L411.17,316.44 L411.62,316.48 L412.07,316.52 L412.52,316.55 L412.97,316.59 L413.42,316.63 L413.87,316.66 L414.32,316.70 L414.77,316.74 L415.22,316.78 L415.67,316.82 L416.12,316.86 L416.57,316.90 L417.02,316.93 L417.48,316.97 L417.93,317.01 L418.38,317.04 L418.83,317.08 L419.28,317.11 L419.73,317.15 L420.18,317.18 L420.63,317.22 L421.08,317.25 L421.53,317.28 L421.98,317.32 L422.43,317.35 L422.88,317.38 L423.33,317.41 L423.78,317.44 L424.23,317.47 L424.68,317.50 L425.13,317.53 L425.58,317.56 L426.03,317.59 L426.48,317.62 L426.93,317.65 L427.39,317.68 L427.84,317.71 L428.29,317.73 L428.74,317.76 L429.19,317.79 L429.64,317.81 L430.09,317.84 L430.54,317.87 L430.99,317.89 L431.44,317.92 L431.89,317.94 L432.34,317.97 L432.79,317.99 L433.24,318.02 L433.69,318.04 L434.14,318.06 L434.59,318.09 L435.04,318.11 L435.49,318.13 L435.94,318.16 L436.39,318.18 L436.84,318.20 L437.30,318.22 L437.75,318.24 L438.20,318.26 L438.65,318.29 L439.10,318.31 L439.55,318.33 L440.00,318.35 L440.45,318.37 L440.90,318.39 L441.35,318.41 L441.80,318.43 L442.25,318.45 L442.70,318.46 L443.15,318.48 L443.60,318.50 L444.05,318.52 L444.50,318.54 L444.95,318.56 L445.40,318.58 L445.85,318.59 L446.30,318.61 L446.75,318.63 L447.21,318.65 L447.66,318.66 L448.11,318.68 L448.56,318.70 L449.01,318.71 L449.46,318.73 L449.91,318.75 L450.36,318.76 L450.81,318.78 L451.26,318.79 L451.71,318.81 L452.16,318.83" fill="none" stroke="#0000ff" stroke-width="1.65" stroke-linejoin="round"/>
<path d="M91.80,320.00 L92.25,320.00 L92.70,320.00 L93.15,320.00 L93.60,320.00 L94.05,320.00 L94.50,320.00 L94.95,320.00 L95.40,320.00 L95.85,320.00 L96.30,320.00 L96.75,320.00 L97.21,320.00 L97.66,320.00 L98.11,320.00 L98.56,320.00 L99.01,320.00 L99.46,320.00 L99.91,320.00 L100.36,320.00 L100.81,320.00 L101.26,320.00 L101.71,320.00 L102.16,320.00 L102.61,320.00 L103.06,320.00 L103.51,320.00 L103.96,320.00 L104.41,320.00 L104.86,320.00 L105.31,320.00 L105.76,320.00 L106.21,320.00 L106.66,320.00 L107.12,320.00 L107.57,320.00 L108.02,320.00 L108.47,320.00 L108.92,320.00 L109.37,320.00 L109.82,320.00 L110.27,320.00 L110.72,320.00 L111.17,320.00 L111.62,320.00 L112.07,320.00 L112.52,320.00 L112.97,320.01 L113.42,320.01 L113.87,320.01 L114.32,320.01 L114.77,320.01 L115.22,320.01 L115.67,320.01 L116.12,320.02 L116.57,320.02 L117.03,320.02 L117.48,320.02 L117.93,320.03 L118.38,320.03 L118.83,320.03 L119.28,320.04 L119.73,320.04 L120.18,320.05 L120.63,320.06 L121.08,320.06 L121.53,320.07 L121.98,320.08 L122.43,320.09 L122.88,320.10 L123.33,320.11 L123.78,320.12 L124.23,320.13 L124.68,320.15 L125.13,320.16 L125.58,320.18 L126.03,320.20 L126.48,320.21 L126.94,320.24 L127.39,320.26 L127.84,320.28 L128.29,320.31 L128.74,320.33 L129.19,320.36 L129.64,320.40 L130.09,320.43 L130.54,320.47 L130.99,320.50 L131.44,320.54 L131.89,320.59 L132.34,320.64 L132.79,320.68 L133.24,320.74 L133.69,320.79 L134.14,320.85 L134.59,320.91 L135.04,320.98 L135.49,321.05 L135.94,321.12 L136.39,321.20 L136.84,321.28 L137.30,321.37 L137.75,321.46 L138.20,321.56 L138.65,321.66 L139.10,321.76 L139.55,321.87 L140.00,321.99 L140.45,322.11 L140.90,322.23 L141.35,322.37 L141.80,322.50 L142.25,322.65 L142.70,322.80 L143.15,322.96 L143.60,323.12 L144.05,323.29 L144.50,323.47 L144.95,323.65 L145.40,323.84 L145.85,324.04 L146.30,324.25 L146.75,324.46 L147.21,324.69 L147.66,324.92 L148.11,325.16 L148.56,325.40 L149.01,325.66 L149.46,325.92 L149.91,326.20 L150.36,326.48 L150.81,326.77 L151.26,327.07 L151.71,327.38 L152.16,327.70 L152.61,328.03 L153.07,328.36 L153.52,328.71 L153.98,329.07 L154.44,329.44 L154.90,329.82 L155.36,330.21 L155.82,330.61 L156.29,331.02 L156.75,331.44 L157.22,331.87 L157.69,332.31 L158.15,332.76 L158.62,333.22 L159.09,333.70 L159.56,334.18 L160.03,334.68 L160.50,335.18 L160.98,335.70 L161.45,336.23 L161.92,336.77 L162.40,337.32 L162.87,337.88 L163.34,338.45 L163.82,339.03 L164.29,339.63 L164.77,340.23 L165.24,340.85 L165.71,341.48 L166.19,342.11 L166.66,342.76 L167.13,343.42 L167.61,344.09 L168.08,344.77 L168.55,345.46 L169.02,346.16 L169.49,346.87 L169.96,347.60 L170.43,348.33 L170.90,349.07 L171.36,349.82 L171.83,350.58 L172.29,351.35 L172.76,352.13 L173.22,352.92 L173.68,353.72 L174.14,354.52 L174.60,355.34 L175.06,356.16 L175.52,356.99 L175.98,357.83 L176.43,358.68 L176.89,359.53 L177.35,360.40 L177.81,361.27 L178.26,362.14 L178.72,363.03 L179.18,363.92 L179.63,364.82 L180.09,365.72 L180.55,366.63 L181.00,367.54 L181.46,368.46 L181.92,369.38 L182.37,370.31 L182.83,371.25 L183.29,372.18 L183.75,373.13 L184.21,374.07 L184.67,375.02 L185.13,375.97 L185.59,376.93 L186.05,377.88 L186.51,378.84 L186.97,379.80 L187.43,380.77 L187.90,381.73 L188.36,382.69 L188.82,383.66 L189.29,384.62 L189.76,385.59 L190.22,386.56 L190.69,387.52 L191.16,388.48 L191.62,389.45 L192.09,390.41 L192.56,391.37 L193.03,392.32 L193.50,393.28 L193.97,394.23 L194.44,395.18 L194.92,396.12 L195.39,397.06 L195.86,398.00 L196.34,398.93 L196.81,399.86 L197.29,400.78 L197.77,401.70 L198.25,402.61 L198.73,403.52 L199.21,404.42 L199.71,405.31 L200.21,406.20 L200.72,407.08 L201.23,407.95 L201.75,408.82 L202.27,409.68 L202.79,410.53 L203.31,411.37 L203.82,412.20 L204.34,413.02 L204.85,413.84 L205.36,414.64 L205.87,415.44 L206.36,416.22 L206.85,416.99 L207.33,417.76 L207.80,418.51 L208.26,419.26 L208.71,419.99 L209.16,420.71 L209.60,421.42 L210.03,422.11 L210.47,422.80 L210.89,423.47 L211.32,424.13 L211.74,424.78 L212.16,425.42 L212.57,426.04 L212.99,426.65 L213.40,427.25 L213.80,427.83 L214.21,428.40 L214.61,428.96 L215.02,429.50 L215.42,430.03 L215.82,430.55 L216.22,431.05 L216.62,431.54 L217.02,432.01 L217.42,432.47 L217.82,432.92 L218.22,433.35 L218.62,433.76 L219.02,434.16 L219.43,434.55 L219.83,434.92 L220.22,435.27 L220.61,435.61 L220.99,435.94 L221.37,436.25 L221.75,436.55 L222.12,436.83 L222.49,437.10 L222.86,437.35 L223.23,437.58 L223.59,437.80 L223.96,438.01 L224.34,438.20 L224.71,438.37 L225.09,438.53 L225.47,438.68 L225.85,438.81 L226.24,438.93 L226.64,439.03 L227.04,439.11 L227.45,439.18 L227.87,439.24 L228.30,439.28 L228.74,439.31 L229.19,439.32 L229.64,439.32 L230.09,439.30 L230.54,439.27 L230.99,439.22 L231.44,439.16 L231.89,439.08 L232.34,438.99 L232.79,438.88 L233.24,438.76 L233.69,438.62 L234.14,438.46 L234.59,438.29 L235.04,438.10 L235.49,437.90 L235.94,437.68 L236.39,437.44 L236.84,437.19 L237.30,436.92 L237.75,436.63 L238.20,436.33 L238.65,436.01 L239.10,435.67 L239.55,435.31 L240.00,434.94 L240.45,434.55 L240.90,434.14 L241.35,433.72 L241.80,433.28 L242.25,432.82 L242.70,432.34 L243.15,431.85 L243.60,431.34 L244.05,430.81 L244.50,430.26 L244.95,429.70 L245.40,429.12 L245.85,428.52 L246.30,427.91 L246.75,427.28 L247.21,426.63 L247.66,425.96 L248.11,425.28 L248.56,424.58 L249.01,423.87 L249.46,423.14 L249.91,422.39 L250.36,421.63 L250.81,420.85 L251.26,420.06 L251.71,419.25 L252.16,418.43 L252.61,417.59 L253.06,416.73 L253.51,415.87 L253.96,414.99 L254.41,414.09 L254.86,413.18 L255.31,412.26 L255.76,411.32 L256.21,410.37 L256.66,409.41 L257.12,408.44 L257.57,407.48 L258.02,406.51 L258.47,405.55 L258.92,404.60 L259.37,403.65 L259.82,402.71 L260.27,401.76 L260.72,400.82 L261.17,399.88 L261.62,398.94 L262.07,398.00 L262.52,397.06 L262.97,396.11 L263.42,395.17 L263.87,394.22 L264.32,393.27 L264.77,392.32 L265.22,391.36 L265.67,390.40 L266.12,389.44 L266.57,388.46 L267.03,387.49 L267.48,386.50 L267.93,385.51 L268.38,384.51 L268.83,383.50 L269.28,382.48 L269.73,381.45 L270.18,380.42 L270.63,379.37 L271.08,378.32 L271.53,377.27 L271.98,376.21 L272.43,375.16 L272.88,374.11 L273.33,373.07 L273.78,372.02 L274.23,370.99 L274.68,369.95 L275.13,368.93 L275.58,367.91 L276.03,366.90 L276.48,365.90 L276.93,364.91 L277.39,363.93 L277.84,362.97 L278.29,362.02 L278.74,361.08 L279.19,360.16 L279.64,359.25 L280.09,358.37 L280.54,357.51 L280.99,356.67 L281.44,355.85 L281.89,355.05 L282.34,354.27 L282.79,353.49 L283.24,352.74 L283.69,351.99 L284.14,351.25 L284.59,350.52 L285.04,349.80 L285.49,349.09 L285.94,348.38 L286.39,347.67 L286.84,346.96 L287.30,346.25 L287.75,345.54 L288.20,344.83 L288.65,344.12 L289.10,343.43 L289.55,342.74 L290.00,342.07 L290.45,341.40 L290.90,340.75 L291.35,340.11 L291.80,339.48 L292.25,338.85 L292.70,338.25 L293.15,337.65 L293.60,337.06 L294.05,336.49 L294.50,335.93 L294.95,335.38 L295.40,334.84 L295.85,334.31 L296.30,333.80 L296.75,333.28 L297.21,332.76 L297.66,332.22 L298.11,331.68 L298.56,331.13 L299.01,330.58 L299.46,330.03 L299.91,329.48 L300.36,328.93 L300.81,328.40 L301.26,327.87 L301.71,327.36 L302.16,326.86 L302.61,326.37 L303.06,325.91 L303.51,325.47 L303.96,325.06 L304.41,324.67 L304.86,324.31 L305.31,323.98 L305.76,323.66 L306.21,323.35 L306.66,323.04 L307.12,322.75 L307.57,322.47 L308.02,322.19 L308.47,321.93 L308.92,321.67 L309.37,321.42 L309.82,321.19 L310.27,320.96 L310.72,320.74 L311.17,320.53 L311.62,320.33 L312.07,320.14 L312.52,319.95 L312.97,319.78 L313.42,319.62 L313.87,319.46 L314.32,319.32 L314.77,319.18 L315.22,319.05 L315.67,318.93 L316.12,318.83 L316.57,318.73 L317.03,318.64 L317.48,318.55 L317.93,318.48 L318.38,318.40 L318.83,318.33 L319.28,318.26 L319.73,318.20 L320.18,318.14 L320.63,318.09 L321.08,318.04 L321.53,317.99 L321.98,317.94 L322.43,317.90 L322.88,317.86 L323.33,317.83 L323.78,317.79 L324.23,317.76 L324.68,317.73 L325.13,317.71 L325.58,317.69 L326.03,317.66 L326.48,317.65 L326.93,317.63 L327.39,317.62 L327.84,317.61 L328.29,317.60 L328.74,317.59 L329.19,317.58 L329.64,317.58 L330.09,317.58 L330.54,317.57 L330.99,317.57 L331.44,317.57 L331.89,317.57 L332.34,317.57 L332.79,317.57 L333.24,317.57 L333.69,317.57 L334.14,317.58 L334.59,317.58 L335.04,317.58 L335.49,317.59 L335.94,317.59 L336.39,317.59 L336.84,317.60 L337.30,317.60 L337.75,317.61 L338.20,317.61 L338.65,317.62 L339.10,317.62 L339.55,317.63 L340.00,317.63 L340.45,317.64 L340.90,317.64 L341.35,317.65 L341.80,317.66 L342.25,317.66 L342.70,317.67 L343.15,317.68 L343.60,317.68 L344.05,317.69 L344.50,317.69 L344.95,317.70 L345.40,317.71 L345.85,317.71 L346.30,317.72 L346.75,317.73 L347.21,317.73 L347.66,317.74 L348.11,317.74 L348.56,317.75 L349.01,317.76 L349.46,317.77 L349.91,317.77 L350.36,317.78 L350.81,317.79 L351.26,317.80 L351.71,317.80 L352.16,317.81 L352.61,317.82 L353.06,317.83 L353.51,317.84 L353.96,317.85 L354.41,317.86 L354.86,317.87 L355.31,317.88 L355.76,317.88 L356.21,317.89 L356.66,317.90 L357.12,317.91 L357.57,317.92 L358.02,317.93 L358.47,317.94 L358.92,317.95 L359.37,317.96 L359.82,317.97 L360.27,317.98 L360.72,317.99 L361.17,318.00 L361.62,318.01 L362.07,318.02 L362.52,318.03 L362.97,318.04 L363.42,318.05 L363.87,318.06 L364.32,318.07 L364.77,318.08 L365.22,318.09 L365.67,318.10 L366.12,318.11 L366.57,318.12 L367.02,318.13 L367.48,318.14 L367.93,318.15 L368.38,318.16 L368.83,318.17 L369.28,318.18 L369.73,318.19 L370.18,318.20 L370.63,318.21 L371.08,318.22 L371.53,318.23 L371.98,318.24 L372.43,318.25 L372.88,318.26 L373.33,318.27 L373.78,318.28 L374.23,318.28 L374.68,318.29 L375.13,318.30 L375.58,318.31 L376.03,318.32 L376.48,318.33 L376.93,318.33 L377.39,318.34 L377.84,318.35 L378.29,318.36 L378.74,318.36 L379.19,318.37 L379.64,318.38 L380.09,318.39 L380.54,318.39 L380.99,318.40 L381.44,318.41 L381.89,318.41 L382.34,318.42 L382.79,318.43 L383.24,318.44 L383.69,318.44 L384.14,318.45 L384.59,318.46 L385.04,318.46 L385.49,318.47 L385.94,318.48 L386.39,318.48 L386.84,318.49 L387.30,318.50 L387.75,318.50 L388.20,318.51 L388.65,318.52 L389.10,318.52 L389.55,318.53 L390.00,318.54 L390.45,318.54 L390.90,318.55 L391.35,318.56 L391.80,318.56 L392.25,318.57 L392.70,318.57 L393.15,318.58 L393.60,318.59 L394.05,318.59 L394.50,318.60 L394.95,318.61 L395.40,318.61 L395.85,318.62 L396.30,318.62 L396.75,318.63 L397.21,318.64 L397.66,318.64 L398.11,318.65 L398.56,318.66 L399.01,318.66 L399.46,318.67 L399.91,318.67 L400.36,318.68 L400.81,318.69 L401.26,318.69 L401.71,318.70 L402.16,318.71 L402.61,318.71 L403.06,318.72 L403.51,318.72 L403.96,318.73 L404.41,318.74 L404.86,318.74 L405.31,318.75 L405.76,318.76 L406.21,318.76 L406.66,318.77 L407.12,318.77 L407.57,318.78 L408.02,318.79 L408.47,318.79 L408.92,318.80 L409.37,318.81 L409.82,318.81 L410.27,318.82 L410.72,318.82 L411.17,318.83 L411.62,318.84 L412.07,318.84 L412.52,318.85 L412.97,318.86 L413.42,318.86 L413.87,318.87 L414.32,318.88 L414.77,318.88 L415.22,318.89 L415.67,318.89 L416.12,318.90 L416.57,318.91 L417.02,318.91 L417.48,318.92 L417.93,318.93 L418.38,318.93 L418.83,318.94 L419.28,318.94 L419.73,318.95 L420.18,318.96 L420.63,318.96 L421.08,318.97 L421.53,318.98 L421.98,318.98 L422.43,318.99 L422.88,318.99 L423.33,319.00 L423.78,319.01 L424.23,319.01 L424.68,319.02 L425.13,319.03 L425.58,319.03 L426.03,319.04 L426.48,319.04 L426.93,319.05 L427.39,319.06 L427.84,319.06 L428.29,319.07 L428.74,319.07 L429.19,319.08 L429.64,319.09 L430.09,319.09 L430.54,319.10 L430.99,319.11 L431.44,319.11 L431.89,319.12 L432.34,319.12 L432.79,319.13 L433.24,319.14 L433.69,319.14 L434.14,319.15 L434.59,319.15 L435.04,319.16 L435.49,319.17 L435.94,319.17 L436.39,319.18 L436.84,319.18 L437.30,319.19 L437.75,319.20 L438.20,319.20 L438.65,319.21 L439.10,319.21 L439.55,319.22 L440.00,319.23 L440.45,319.23 L440.90,319.24 L441.35,319.24 L441.80,319.25 L442.25,319.26 L442.70,319.26 L443.15,319.27 L443.60,319.27 L444.05,319.28 L444.50,319.29 L444.95,319.29 L445.40,319.30 L445.85,319.30 L446.30,319.31 L446.75,319.32 L447.21,319.32 L447.66,319.33 L448.11,319.33 L448.56,319.34 L449.01,319.35 L449.46,319.35 L449.91,319.36 L450.36,319.36 L450.81,319.37 L451.26,319.38 L451.71,319.38 L452.16,319.39" fill="none" stroke="#0000ff" stroke-width="1.65" stroke-dasharray="3.3,2.3" stroke-linejoin="round"/>
<path d="M91.80,320.00 L92.25,320.00 L92.70,320.00 L93.15,320.00 L93.60,320.00 L94.05,320.00 L94.50,320.00 L94.95,320.00 L95.40,320.00 L95.85,320.00 L96.30,320.00 L96.75,320.00 L97.21,319.99 L97.66,319.99 L98.11,319.99 L98.56,319.99 L99.01,319.99 L99.46,319.98 L99.91,319.98 L100.36,319.98 L100.81,319.97 L101.26,319.97 L101.71,319.97 L102.16,319.96 L102.61,319.96 L103.06,319.95 L103.51,319.95 L103.96,319.94 L104.41,319.93 L104.86,319.92 L105.31,319.92 L105.76,319.91 L106.21,319.90 L106.66,319.89 L107.12,319.88 L107.57,319.87 L108.02,319.86 L108.47,319.85 L108.92,319.84 L109.37,319.82 L109.82,319.81 L110.27,319.80 L110.72,319.79 L111.17,319.77 L111.62,319.76 L112.07,319.75 L112.52,319.73 L112.97,319.72 L113.42,319.70 L113.87,319.69 L114.32,319.67 L114.77,319.66 L115.22,319.64 L115.67,319.63 L116.12,319.62 L116.57,319.60 L117.03,319.59 L117.48,319.58 L117.93,319.56 L118.38,319.55 L118.83,319.54 L119.28,319.53 L119.73,319.52 L120.18,319.51 L120.63,319.50 L121.08,319.50 L121.53,319.49 L121.98,319.49 L122.43,319.49 L122.88,319.49 L123.33,319.49 L123.78,319.49 L124.23,319.50 L124.68,319.51 L125.13,319.52 L125.58,319.53 L126.03,319.54 L126.48,319.56 L126.94,319.58 L127.39,319.60 L127.84,319.63 L128.29,319.66 L128.74,319.69 L129.19,319.73 L129.64,319.77 L130.09,319.81 L130.54,319.86 L130.99,319.91 L131.44,319.96 L131.89,320.02 L132.34,320.09 L132.79,320.16 L133.24,320.23 L133.69,320.31 L134.14,320.39 L134.59,320.48 L135.04,320.57 L135.49,320.67 L135.94,320.77 L136.39,320.88 L136.84,320.99 L137.30,321.11 L137.75,321.24 L138.20,321.37 L138.65,321.51 L139.10,321.65 L139.55,321.80 L140.00,321.96 L140.45,322.12 L140.90,322.29 L141.35,322.47 L141.80,322.65 L142.25,322.84 L142.70,323.04 L143.15,323.24 L143.60,323.45 L144.05,323.67 L144.50,323.89 L144.95,324.13 L145.40,324.37 L145.85,324.61 L146.31,324.86 L146.76,325.13 L147.21,325.39 L147.67,325.67 L148.13,325.95 L148.59,326.24 L149.05,326.54 L149.51,326.85 L149.97,327.16 L150.44,327.48 L150.90,327.81 L151.37,328.14 L151.84,328.48 L152.30,328.83 L152.78,329.19 L153.25,329.56 L153.72,329.93 L154.19,330.31 L154.67,330.69 L155.14,331.09 L155.62,331.49 L156.09,331.90 L156.57,332.31 L157.05,332.74 L157.53,333.17 L158.01,333.60 L158.49,334.05 L158.97,334.50 L159.45,334.96 L159.93,335.42 L160.41,335.89 L160.89,336.37 L161.38,336.85 L161.86,337.34 L162.34,337.83 L162.83,338.34 L163.31,338.84 L163.79,339.36 L164.28,339.88 L164.76,340.40 L165.25,340.93 L165.73,341.47 L166.21,342.01 L166.70,342.55 L167.18,343.11 L167.68,343.66 L168.17,344.22 L168.67,344.79 L169.17,345.36 L169.67,345.93 L170.17,346.51 L170.68,347.09 L171.19,347.68 L171.69,348.26 L172.20,348.86 L172.72,349.45 L173.23,350.05 L173.74,350.66 L174.25,351.26 L174.77,351.87 L175.28,352.48 L175.79,353.09 L176.30,353.71 L176.81,354.32 L177.32,354.94 L177.83,355.56 L178.33,356.18 L178.84,356.81 L179.34,357.43 L179.84,358.06 L180.34,358.68 L180.83,359.31 L181.32,359.94 L181.81,360.56 L182.30,361.19 L182.79,361.82 L183.28,362.44 L183.78,363.07 L184.27,363.69 L184.76,364.32 L185.25,364.94 L185.74,365.56 L186.23,366.18 L186.72,366.80 L187.21,367.42 L187.70,368.03 L188.18,368.64 L188.67,369.25 L189.15,369.86 L189.63,370.46 L190.11,371.07 L190.59,371.66 L191.06,372.26 L191.53,372.85 L192.00,373.44 L192.47,374.02 L192.93,374.60 L193.39,375.17 L193.85,375.74 L194.30,376.31 L194.75,376.87 L195.19,377.43 L195.62,377.98 L196.05,378.52 L196.47,379.06 L196.89,379.60 L197.30,380.13 L197.71,380.65 L198.12,381.16 L198.52,381.67 L198.92,382.18 L199.32,382.67 L199.72,383.16 L200.12,383.65 L200.52,384.12 L200.91,384.59 L201.31,385.05 L201.71,385.50 L202.11,385.95 L202.51,386.39 L202.91,386.82 L203.31,387.24 L203.70,387.65 L204.10,388.05 L204.49,388.45 L204.88,388.83 L205.27,389.21 L205.66,389.58 L206.04,389.94 L206.43,390.29 L206.81,390.63 L207.20,390.96 L207.59,391.28 L207.97,391.59 L208.36,391.89 L208.75,392.18 L209.14,392.47 L209.53,392.74 L209.92,393.00 L210.32,393.25 L210.71,393.49 L211.11,393.71 L211.50,393.93 L211.89,394.14 L212.29,394.33 L212.68,394.52 L213.07,394.69 L213.47,394.85 L213.86,395.01 L214.26,395.15 L214.65,395.27 L215.05,395.39 L215.45,395.49 L215.85,395.59 L216.26,395.67 L216.67,395.74 L217.08,395.80 L217.49,395.84 L217.91,395.87 L218.33,395.90 L218.75,395.90 L219.17,395.90 L219.59,395.89 L220.01,395.86 L220.44,395.82 L220.86,395.77 L221.28,395.70 L221.71,395.62 L222.13,395.54 L222.56,395.43 L222.99,395.32 L223.42,395.19 L223.85,395.05 L224.28,394.90 L224.72,394.74 L225.16,394.56 L225.60,394.37 L226.04,394.17 L226.49,393.95 L226.94,393.73 L227.39,393.49 L227.84,393.23 L228.29,392.97 L228.74,392.69 L229.19,392.40 L229.64,392.10 L230.09,391.78 L230.54,391.46 L230.99,391.12 L231.44,390.77 L231.89,390.40 L232.34,390.03 L232.79,389.64 L233.24,389.24 L233.69,388.82 L234.14,388.40 L234.59,387.96 L235.04,387.51 L235.49,387.05 L235.94,386.58 L236.39,386.10 L236.84,385.60 L237.30,385.10 L237.75,384.58 L238.20,384.05 L238.65,383.51 L239.10,382.96 L239.55,382.39 L240.00,381.82 L240.45,381.23 L240.90,380.64 L241.35,380.03 L241.80,379.42 L242.25,378.79 L242.70,378.15 L243.15,377.50 L243.60,376.85 L244.05,376.18 L244.50,375.50 L244.95,374.82 L245.40,374.12 L245.85,373.41 L246.30,372.70 L246.75,371.98 L247.21,371.25 L247.66,370.50 L248.11,369.76 L248.56,369.00 L249.01,368.23 L249.46,367.46 L249.91,366.68 L250.36,365.89 L250.81,365.09 L251.26,364.29 L251.71,363.48 L252.16,362.67 L252.61,361.84 L253.06,361.01 L253.51,360.18 L253.96,359.34 L254.41,358.49 L254.86,357.64 L255.30,356.78 L255.74,355.92 L256.17,355.05 L256.60,354.18 L257.03,353.30 L257.46,352.42 L257.89,351.54 L258.31,350.66 L258.73,349.77 L259.15,348.87 L259.57,347.98 L259.99,347.08 L260.40,346.18 L260.82,345.28 L261.23,344.38 L261.64,343.47 L262.06,342.57 L262.47,341.66 L262.88,340.75 L263.30,339.85 L263.71,338.94 L264.12,338.03 L264.54,337.12 L264.96,336.21 L265.37,335.31 L265.79,334.40 L266.21,333.50 L266.63,332.59 L267.06,331.69 L267.48,330.79 L267.91,329.90 L268.34,329.01 L268.77,328.11 L269.21,327.23 L269.64,326.34 L270.09,325.47 L270.53,324.59 L270.98,323.72 L271.43,322.85 L271.89,321.99 L272.35,321.14 L272.82,320.29 L273.29,319.45 L273.77,318.61 L274.25,317.78 L274.73,316.96 L275.21,316.15 L275.70,315.34 L276.19,314.55 L276.68,313.76 L277.17,312.98 L277.67,312.20 L278.16,311.44 L278.66,310.69 L279.15,309.95 L279.65,309.22 L280.14,308.50 L280.64,307.79 L281.13,307.10 L281.62,306.41 L282.11,305.74 L282.60,305.09 L283.08,304.44 L283.57,303.81 L284.05,303.19 L284.52,302.59 L285.00,302.00 L285.47,301.42 L285.93,300.86 L286.39,300.32 L286.84,299.79 L287.30,299.28 L287.75,298.79 L288.20,298.31 L288.65,297.85 L289.10,297.40 L289.55,296.98 L290.00,296.56 L290.45,296.17 L290.90,295.79 L291.35,295.43 L291.80,295.08 L292.25,294.75 L292.70,294.44 L293.15,294.14 L293.60,293.86 L294.05,293.59 L294.50,293.33 L294.95,293.09 L295.40,292.87 L295.85,292.66 L296.30,292.46 L296.75,292.28 L297.21,292.11 L297.66,291.96 L298.11,291.82 L298.56,291.69 L299.01,291.57 L299.46,291.47 L299.91,291.38 L300.36,291.30 L300.81,291.23 L301.26,291.18 L301.71,291.13 L302.16,291.10 L302.61,291.08 L303.06,291.07 L303.51,291.07 L303.96,291.08 L304.41,291.10 L304.86,291.13 L305.31,291.17 L305.76,291.22 L306.21,291.28 L306.66,291.35 L307.12,291.42 L307.57,291.51 L308.02,291.60 L308.47,291.70 L308.92,291.81 L309.37,291.92 L309.82,292.05 L310.27,292.18 L310.72,292.31 L311.17,292.46 L311.62,292.60 L312.07,292.76 L312.52,292.92 L312.97,293.09 L313.42,293.26 L313.87,293.44 L314.32,293.62 L314.77,293.80 L315.22,294.00 L315.67,294.19 L316.12,294.39 L316.57,294.60 L317.03,294.80 L317.48,295.01 L317.93,295.23 L318.38,295.44 L318.83,295.66 L319.28,295.89 L319.73,296.11 L320.18,296.34 L320.63,296.57 L321.08,296.80 L321.53,297.04 L321.98,297.27 L322.43,297.51 L322.88,297.75 L323.33,297.98 L323.78,298.22 L324.23,298.47 L324.68,298.71 L325.13,298.95 L325.58,299.19 L326.03,299.44 L326.48,299.68 L326.93,299.92 L327.39,300.16 L327.84,300.41 L328.29,300.65 L328.74,300.89 L329.19,301.13 L329.64,301.37 L330.09,301.61 L330.54,301.85 L330.99,302.09 L331.44,302.32 L331.89,302.56 L332.34,302.79 L332.79,303.03 L333.24,303.26 L333.69,303.49 L334.14,303.71 L334.59,303.94 L335.04,304.16 L335.49,304.38 L335.94,304.60 L336.39,304.82 L336.84,305.04 L337.30,305.25 L337.75,305.46 L338.20,305.67 L338.65,305.88 L339.10,306.08 L339.55,306.29 L340.00,306.49 L340.45,306.68 L340.90,306.88 L341.35,307.07 L341.80,307.26 L342.25,307.45 L342.70,307.64 L343.15,307.82 L343.60,308.00 L344.05,308.18 L344.50,308.35 L344.95,308.53 L345.40,308.70 L345.85,308.87 L346.30,309.03 L346.75,309.20 L347.21,309.36 L347.66,309.52 L348.11,309.67 L348.56,309.83 L349.01,309.98 L349.46,310.12 L349.91,310.27 L350.36,310.41 L350.81,310.55 L351.26,310.69 L351.71,310.83 L352.16,310.96 L352.61,311.09 L353.06,311.22 L353.51,311.34 L353.96,311.47 L354.41,311.59 L354.86,311.71 L355.31,311.82 L355.76,311.93 L356.21,312.05 L356.66,312.15 L357.12,312.26 L357.57,312.36 L358.02,312.47 L358.47,312.57 L358.92,312.66 L359.37,312.76 L359.82,312.85 L360.27,312.94 L360.72,313.03 L361.17,313.12 L361.62,313.20 L362.07,313.28 L362.52,313.36 L362.97,313.44 L363.42,313.52 L363.87,313.59 L364.32,313.67 L364.77,313.74 L365.22,313.81 L365.67,313.88 L366.12,313.94 L366.57,314.01 L367.02,314.07 L367.48,314.14 L367.93,314.20 L368.38,314.27 L368.83,314.33 L369.28,314.39 L369.73,314.45 L370.18,314.51 L370.63,314.57 L371.08,314.62 L371.53,314.68 L371.98,314.74 L372.43,314.79 L372.88,314.85 L373.33,314.90 L373.78,314.95 L374.23,315.01 L374.68,315.06 L375.13,315.11 L375.58,315.16 L376.03,315.21 L376.48,315.26 L376.93,315.30 L377.39,315.35 L377.84,315.40 L378.29,315.44 L378.74,315.49 L379.19,315.53 L379.64,315.58 L380.09,315.62 L380.54,315.66 L380.99,315.70 L381.44,315.74 L381.89,315.78 L382.34,315.82 L382.79,315.86 L383.24,315.90 L383.69,315.94 L384.14,315.98 L384.59,316.01 L385.04,316.05 L385.49,316.08 L385.94,316.12 L386.39,316.15 L386.84,316.18 L387.30,316.21 L387.75,316.25 L388.20,316.28 L388.65,316.31 L389.10,316.34 L389.55,316.36 L390.00,316.39 L390.45,316.42 L390.90,316.45 L391.35,316.47 L391.80,316.50 L392.25,316.53 L392.70,316.55 L393.15,316.58 L393.60,316.61 L394.05,316.64 L394.50,316.66 L394.95,316.69 L395.40,316.72 L395.85,316.75 L396.30,316.78 L396.75,316.80 L397.21,316.83 L397.66,316.86 L398.11,316.89 L398.56,316.92 L399.01,316.94 L399.46,316.97 L399.91,317.00 L400.36,317.03 L400.81,317.06 L401.26,317.09 L401.71,317.12 L402.16,317.15 L402.61,317.17 L403.06,317.20 L403.51,317.23 L403.96,317.26 L404.41,317.29 L404.86,317.32 L405.31,317.35 L405.76,317.38 L406.21,317.41 L406.66,317.44 L407.12,317.46 L407.57,317.49 L408.02,317.52 L408.47,317.55 L408.92,317.58 L409.37,317.61 L409.82,317.64 L410.27,317.66 L410.72,317.69 L411.17,317.72 L411.62,317.75 L412.07,317.78 L412.52,317.80 L412.97,317.83 L413.42,317.86 L413.87,317.89 L414.32,317.91 L414.77,317.94 L415.22,317.97 L415.67,317.99 L416.12,318.02 L416.57,318.04 L417.02,318.06 L417.48,318.08 L417.93,318.10 L418.38,318.12 L418.83,318.14 L419.28,318.16 L419.73,318.18 L420.18,318.20 L420.63,318.21 L421.08,318.23 L421.53,318.24 L421.98,318.26 L422.43,318.27 L422.88,318.28 L423.33,318.29 L423.78,318.31 L424.23,318.32 L424.68,318.33 L425.13,318.34 L425.58,318.35 L426.03,318.36 L426.48,318.37 L426.93,318.38 L427.39,318.39 L427.84,318.39 L428.29,318.40 L428.74,318.41 L429.19,318.42 L429.64,318.42 L430.09,318.43 L430.54,318.44 L430.99,318.45 L431.44,318.45 L431.89,318.46 L432.34,318.47 L432.79,318.47 L433.24,318.48 L433.69,318.49 L434.14,318.49 L434.59,318.50 L435.04,318.51 L435.49,318.51 L435.94,318.52 L436.39,318.53 L436.84,318.53 L437.30,318.54 L437.75,318.55 L438.20,318.56 L438.65,318.56 L439.10,318.57 L439.55,318.58 L440.00,318.58 L440.45,318.59 L440.90,318.59 L441.35,318.59 L441.80,318.60 L442.25,318.60 L442.70,318.60 L443.15,318.61 L443.60,318.61 L444.05,318.61 L444.50,318.61 L444.95,318.61 L445.40,318.61 L445.85,318.61 L446.30,318.61 L446.75,318.61 L447.21,318.61 L447.66,318.61 L448.11,318.60 L448.56,318.60 L449.01,318.60 L449.46,318.59 L449.91,318.59 L450.36,318.59 L450.81,318.58 L451.26,318.58 L451.71,318.57 L452.16,318.57" fill="none" stroke="#ff00ff" stroke-width="1.65" stroke-linejoin="round"/>
<path d="M91.80,320.00 L92.25,320.00 L92.70,320.00 L93.15,320.00 L93.60,320.00 L94.05,320.00 L94.50,320.00 L94.95,320.00 L95.40,320.00 L95.85,320.00 L96.30,320.00 L96.75,320.00 L97.21,320.00 L97.66,320.00 L98.11,320.00 L98.56,320.00 L99.01,320.00 L99.46,320.00 L99.91,320.00 L100.36,320.00 L100.81,320.00 L101.26,320.00 L101.71,320.00 L102.16,320.00 L102.61,320.00 L103.06,320.00 L103.51,320.00 L103.96,320.00 L104.41,320.00 L104.86,320.00 L105.31,320.00 L105.76,320.00 L106.21,320.00 L106.66,320.00 L107.12,320.00 L107.57,320.00 L108.02,320.00 L108.47,320.00 L108.92,320.01 L109.37,320.01 L109.82,320.01 L110.27,320.01 L110.72,320.01 L111.17,320.01 L111.62,320.01 L112.07,320.01 L112.52,320.02 L112.97,320.02 L113.42,320.02 L113.87,320.02 L114.32,320.03 L114.77,320.03 L115.22,320.04 L115.67,320.04 L116.12,320.04 L116.57,320.05 L117.03,320.05 L117.48,320.06 L117.93,320.07 L118.38,320.07 L118.83,320.08 L119.28,320.09 L119.73,320.10 L120.18,320.11 L120.63,320.12 L121.08,320.13 L121.53,320.14 L121.98,320.16 L122.43,320.17 L122.88,320.18 L123.33,320.20 L123.78,320.22 L124.23,320.24 L124.68,320.26 L125.13,320.28 L125.58,320.30 L126.03,320.32 L126.48,320.35 L126.94,320.37 L127.39,320.40 L127.84,320.43 L128.29,320.46 L128.74,320.49 L129.19,320.53 L129.64,320.57 L130.09,320.61 L130.54,320.65 L130.99,320.69 L131.44,320.73 L131.89,320.78 L132.34,320.83 L132.79,320.88 L133.24,320.94 L133.69,321.00 L134.14,321.06 L134.59,321.12 L135.04,321.18 L135.49,321.25 L135.94,321.33 L136.39,321.40 L136.84,321.48 L137.30,321.56 L137.75,321.64 L138.20,321.73 L138.65,321.82 L139.10,321.92 L139.55,322.02 L140.00,322.12 L140.45,322.23 L140.90,322.34 L141.35,322.45 L141.80,322.57 L142.25,322.69 L142.70,322.82 L143.15,322.95 L143.60,323.09 L144.05,323.23 L144.50,323.38 L144.95,323.53 L145.40,323.68 L145.85,323.84 L146.31,324.01 L146.76,324.18 L147.21,324.35 L147.67,324.53 L148.12,324.72 L148.58,324.91 L149.04,325.10 L149.50,325.31 L149.96,325.51 L150.42,325.73 L150.89,325.94 L151.35,326.17 L151.82,326.40 L152.28,326.63 L152.75,326.88 L153.22,327.12 L153.69,327.38 L154.16,327.64 L154.63,327.90 L155.10,328.17 L155.57,328.45 L156.04,328.74 L156.52,329.03 L156.99,329.32 L157.47,329.63 L157.94,329.94 L158.42,330.25 L158.89,330.57 L159.37,330.90 L159.84,331.24 L160.32,331.58 L160.79,331.92 L161.27,332.28 L161.75,332.64 L162.23,333.00 L162.70,333.38 L163.18,333.76 L163.66,334.14 L164.13,334.53 L164.61,334.93 L165.09,335.33 L165.56,335.74 L166.04,336.16 L166.52,336.58 L166.99,337.01 L167.47,337.45 L167.94,337.89 L168.42,338.33 L168.89,338.78 L169.37,339.24 L169.84,339.71 L170.31,340.17 L170.78,340.65 L171.25,341.13 L171.73,341.61 L172.20,342.11 L172.66,342.60 L173.13,343.10 L173.60,343.61 L174.07,344.12 L174.53,344.64 L175.00,345.16 L175.46,345.68 L175.92,346.21 L176.39,346.75 L176.85,347.29 L177.31,347.83 L177.76,348.38 L178.22,348.93 L178.68,349.48 L179.13,350.04 L179.59,350.60 L180.04,351.16 L180.49,351.73 L180.94,352.30 L181.38,352.88 L181.83,353.45 L182.27,354.03 L182.72,354.61 L183.16,355.20 L183.60,355.78 L184.04,356.37 L184.48,356.96 L184.92,357.55 L185.36,358.15 L185.79,358.74 L186.23,359.34 L186.66,359.93 L187.10,360.53 L187.53,361.13 L187.96,361.72 L188.40,362.32 L188.83,362.92 L189.26,363.52 L189.69,364.11 L190.12,364.71 L190.55,365.31 L190.98,365.90 L191.41,366.50 L191.84,367.09 L192.27,367.68 L192.70,368.27 L193.14,368.86 L193.57,369.45 L194.00,370.03 L194.43,370.61 L194.86,371.19 L195.29,371.77 L195.72,372.34 L196.16,372.91 L196.59,373.48 L197.03,374.04 L197.46,374.60 L197.90,375.16 L198.33,375.71 L198.76,376.25 L199.20,376.80 L199.63,377.34 L200.06,377.87 L200.50,378.40 L200.93,378.92 L201.36,379.44 L201.79,379.95 L202.22,380.46 L202.65,380.96 L203.08,381.46 L203.51,381.95 L203.94,382.43 L204.37,382.91 L204.81,383.38 L205.24,383.85 L205.67,384.30 L206.10,384.75 L206.53,385.20 L206.96,385.63 L207.39,386.06 L207.82,386.48 L208.25,386.90 L208.69,387.30 L209.12,387.70 L209.55,388.09 L209.99,388.47 L210.42,388.85 L210.86,389.21 L211.29,389.57 L211.73,389.92 L212.16,390.26 L212.60,390.59 L213.04,390.91 L213.48,391.23 L213.92,391.53 L214.36,391.83 L214.80,392.11 L215.24,392.39 L215.69,392.66 L216.13,392.92 L216.58,393.16 L217.03,393.40 L217.48,393.63 L217.93,393.85 L218.38,394.07 L218.83,394.27 L219.28,394.46 L219.73,394.64 L220.18,394.81 L220.63,394.97 L221.08,395.13 L221.53,395.27 L221.98,395.40 L222.43,395.53 L222.88,395.64 L223.33,395.74 L223.78,395.83 L224.23,395.92 L224.68,395.99 L225.13,396.06 L225.58,396.11 L226.03,396.15 L226.48,396.19 L226.94,396.21 L227.39,396.23 L227.84,396.23 L228.29,396.23 L228.74,396.21 L229.19,396.19 L229.64,396.15 L230.09,396.11 L230.54,396.05 L230.99,395.99 L231.44,395.91 L231.89,395.83 L232.34,395.73 L232.79,395.62 L233.24,395.50 L233.69,395.38 L234.14,395.24 L234.59,395.09 L235.04,394.93 L235.49,394.75 L235.94,394.57 L236.39,394.38 L236.84,394.17 L237.30,393.96 L237.75,393.73 L238.20,393.49 L238.65,393.24 L239.10,392.98 L239.55,392.71 L240.00,392.42 L240.45,392.13 L240.90,391.82 L241.35,391.50 L241.80,391.18 L242.25,390.84 L242.70,390.49 L243.15,390.12 L243.60,389.75 L244.05,389.37 L244.50,388.97 L244.95,388.57 L245.40,388.15 L245.85,387.73 L246.30,387.29 L246.75,386.84 L247.21,386.38 L247.66,385.91 L248.11,385.43 L248.56,384.95 L249.01,384.45 L249.46,383.94 L249.91,383.42 L250.36,382.89 L250.81,382.36 L251.26,381.81 L251.71,381.26 L252.16,380.69 L252.61,380.12 L253.06,379.54 L253.51,378.95 L253.96,378.35 L254.41,377.75 L254.86,377.14 L255.31,376.52 L255.76,375.89 L256.21,375.26 L256.66,374.61 L257.12,373.97 L257.57,373.32 L258.02,372.66 L258.47,371.99 L258.92,371.32 L259.37,370.65 L259.82,369.97 L260.27,369.28 L260.72,368.60 L261.17,367.90 L261.62,367.21 L262.07,366.51 L262.52,365.81 L262.97,365.10 L263.42,364.40 L263.87,363.69 L264.32,362.98 L264.77,362.27 L265.22,361.55 L265.67,360.84 L266.12,360.13 L266.57,359.41 L267.03,358.70 L267.48,357.98 L267.93,357.27 L268.38,356.56 L268.83,355.85 L269.28,355.14 L269.73,354.43 L270.18,353.73 L270.63,353.03 L271.08,352.33 L271.53,351.64 L271.98,350.95 L272.43,350.26 L272.88,349.58 L273.33,348.90 L273.78,348.22 L274.23,347.56 L274.68,346.89 L275.13,346.24 L275.58,345.58 L276.03,344.94 L276.48,344.30 L276.93,343.67 L277.39,343.04 L277.84,342.42 L278.29,341.81 L278.74,341.21 L279.19,340.61 L279.64,340.02 L280.09,339.44 L280.54,338.87 L280.99,338.30 L281.44,337.75 L281.89,337.20 L282.34,336.66 L282.79,336.13 L283.24,335.61 L283.69,335.09 L284.14,334.59 L284.59,334.10 L285.04,333.61 L285.49,333.13 L285.94,332.67 L286.39,332.21 L286.84,331.76 L287.30,331.32 L287.75,330.89 L288.20,330.47 L288.65,330.06 L289.10,329.65 L289.55,329.26 L290.00,328.88 L290.45,328.50 L290.90,328.13 L291.35,327.77 L291.80,327.42 L292.25,327.08 L292.70,326.75 L293.15,326.42 L293.60,326.11 L294.05,325.80 L294.50,325.50 L294.95,325.21 L295.40,324.92 L295.85,324.64 L296.30,324.37 L296.75,324.11 L297.21,323.85 L297.66,323.60 L298.11,323.36 L298.56,323.13 L299.01,322.90 L299.46,322.67 L299.91,322.46 L300.36,322.25 L300.81,322.04 L301.26,321.84 L301.71,321.65 L302.16,321.46 L302.61,321.28 L303.06,321.11 L303.51,320.94 L303.96,320.77 L304.41,320.61 L304.86,320.46 L305.31,320.31 L305.76,320.17 L306.21,320.03 L306.66,319.89 L307.12,319.76 L307.57,319.64 L308.02,319.52 L308.47,319.41 L308.92,319.30 L309.37,319.19 L309.82,319.09 L310.27,318.99 L310.72,318.90 L311.17,318.81 L311.62,318.73 L312.07,318.65 L312.52,318.57 L312.97,318.50 L313.42,318.43 L313.87,318.36 L314.32,318.30 L314.77,318.24 L315.22,318.19 L315.67,318.14 L316.12,318.09 L316.57,318.04 L317.03,318.00 L317.48,317.95 L317.93,317.92 L318.38,317.88 L318.83,317.85 L319.28,317.82 L319.73,317.79 L320.18,317.76 L320.63,317.73 L321.08,317.71 L321.53,317.69 L321.98,317.67 L322.43,317.65 L322.88,317.64 L323.33,317.62 L323.78,317.61 L324.23,317.60 L324.68,317.59 L325.13,317.58 L325.58,317.57 L326.03,317.56 L326.48,317.56 L326.93,317.55 L327.39,317.55 L327.84,317.54 L328.29,317.54 L328.74,317.54 L329.19,317.54 L329.64,317.54 L330.09,317.54 L330.54,317.54 L330.99,317.54 L331.44,317.54 L331.89,317.54 L332.34,317.54 L332.79,317.55 L333.24,317.55 L333.69,317.55 L334.14,317.56 L334.59,317.56 L335.04,317.57 L335.49,317.57 L335.94,317.58 L336.39,317.58 L336.84,317.59 L337.30,317.59 L337.75,317.60 L338.20,317.60 L338.65,317.61 L339.10,317.61 L339.55,317.62 L340.00,317.63 L340.45,317.63 L340.90,317.64 L341.35,317.64 L341.80,317.65 L342.25,317.66 L342.70,317.66 L343.15,317.67 L343.60,317.68 L344.05,317.68 L344.50,317.69 L344.95,317.70 L345.40,317.70 L345.85,317.71 L346.30,317.72 L346.75,317.72 L347.21,317.73 L347.66,317.74 L348.11,317.74 L348.56,317.75 L349.01,317.76 L349.46,317.76 L349.91,317.77 L350.36,317.78 L350.81,317.79 L351.26,317.80 L351.71,317.80 L352.16,317.81 L352.61,317.82 L353.06,317.83 L353.51,317.84 L353.96,317.85 L354.41,317.86 L354.86,317.87 L355.31,317.87 L355.76,317.88 L356.21,317.89 L356.66,317.90 L357.12,317.91 L357.57,317.92 L358.02,317.93 L358.47,317.94 L358.92,317.95 L359.37,317.96 L359.82,317.97 L360.27,317.98 L360.72,317.99 L361.17,318.00 L361.62,318.01 L362.07,318.02 L362.52,318.03 L362.97,318.04 L363.42,318.05 L363.87,318.06 L364.32,318.07 L364.77,318.08 L365.22,318.09 L365.67,318.10 L366.12,318.11 L366.57,318.12 L367.02,318.13 L367.48,318.14 L367.93,318.15 L368.38,318.16 L368.83,318.17 L369.28,318.18 L369.73,318.19 L370.18,318.20 L370.63,318.21 L371.08,318.22 L371.53,318.23 L371.98,318.24 L372.43,318.25 L372.88,318.26 L373.33,318.27 L373.78,318.28 L374.23,318.28 L374.68,318.29 L375.13,318.30 L375.58,318.31 L376.03,318.32 L376.48,318.33 L376.93,318.33 L377.39,318.34 L377.84,318.35 L378.29,318.36 L378.74,318.36 L379.19,318.37 L379.64,318.38 L380.09,318.39 L380.54,318.39 L380.99,318.40 L381.44,318.41 L381.89,318.41 L382.34,318.42 L382.79,318.43 L383.24,318.44 L383.69,318.44 L384.14,318.45 L384.59,318.46 L385.04,318.46 L385.49,318.47 L385.94,318.48 L386.39,318.48 L386.84,318.49 L387.30,318.50 L387.75,318.50 L388.20,318.51 L388.65,318.52 L389.10,318.52 L389.55,318.53 L390.00,318.54 L390.45,318.54 L390.90,318.55 L391.35,318.56 L391.80,318.56 L392.25,318.57 L392.70,318.57 L393.15,318.58 L393.60,318.59 L394.05,318.59 L394.50,318.60 L394.95,318.61 L395.40,318.61 L395.85,318.62 L396.30,318.62 L396.75,318.63 L397.21,318.64 L397.66,318.64 L398.11,318.65 L398.56,318.66 L399.01,318.66 L399.46,318.67 L399.91,318.67 L400.36,318.68 L400.81,318.69 L401.26,318.69 L401.71,318.70 L402.16,318.71 L402.61,318.71 L403.06,318.72 L403.51,318.72 L403.96,318.73 L404.41,318.74 L404.86,318.74 L405.31,318.75 L405.76,318.76 L406.21,318.76 L406.66,318.77 L407.12,318.77 L407.57,318.78 L408.02,318.79 L408.47,318.79 L408.92,318.80 L409.37,318.81 L409.82,318.81 L410.27,318.82 L410.72,318.82 L411.17,318.83 L411.62,318.84 L412.07,318.84 L412.52,318.85 L412.97,318.86 L413.42,318.86 L413.87,318.87 L414.32,318.88 L414.77,318.88 L415.22,318.89 L415.67,318.89 L416.12,318.90 L416.57,318.91 L417.02,318.91 L417.48,318.92 L417.93,318.93 L418.38,318.93 L418.83,318.94 L419.28,318.94 L419.73,318.95 L420.18,318.96 L420.63,318.96 L421.08,318.97 L421.53,318.98 L421.98,318.98 L422.43,318.99 L422.88,318.99 L423.33,319.00 L423.78,319.01 L424.23,319.01 L424.68,319.02 L425.13,319.03 L425.58,319.03 L426.03,319.04 L426.48,319.04 L426.93,319.05 L427.39,319.06 L427.84,319.06 L428.29,319.07 L428.74,319.07 L429.19,319.08 L429.64,319.09 L430.09,319.09 L430.54,319.10 L430.99,319.11 L431.44,319.11 L431.89,319.12 L432.34,319.12 L432.79,319.13 L433.24,319.14 L433.69,319.14 L434.14,319.15 L434.59,319.15 L435.04,319.16 L435.49,319.17 L435.94,319.17 L436.39,319.18 L436.84,319.18 L437.30,319.19 L437.75,319.20 L438.20,319.20 L438.65,319.21 L439.10,319.21 L439.55,319.22 L440.00,319.23 L440.45,319.23 L440.90,319.24 L441.35,319.24 L441.80,319.25 L442.25,319.26 L442.70,319.26 L443.15,319.27 L443.60,319.27 L444.05,319.28 L444.50,319.29 L444.95,319.29 L445.40,319.30 L445.85,319.30 L446.30,319.31 L446.75,319.32 L447.21,319.32 L447.66,319.33 L448.11,319.33 L448.56,319.34 L449.01,319.35 L449.46,319.35 L449.91,319.36 L450.36,319.36 L450.81,319.37 L451.26,319.38 L451.71,319.38 L452.16,319.39" fill="none" stroke="#ff00ff" stroke-width="1.65" stroke-dasharray="3.3,2.3" stroke-linejoin="round"/>
</g>
<rect x="91.8" y="254.0" width="360.34999999999997" height="293.0" fill="none" stroke="#000" stroke-width="1.6"/>
<text x="91.8" y="569.9" text-anchor="middle" font-size="15.8">0</text><text x="151.9" y="569.9" text-anchor="middle" font-size="15.8">2</text><text x="211.9" y="569.9" text-anchor="middle" font-size="15.8">4</text><text x="272.0" y="569.9" text-anchor="middle" font-size="15.8">6</text><text x="332.0" y="569.9" text-anchor="middle" font-size="15.8">8</text><text x="392.1" y="569.9" text-anchor="middle" font-size="15.8">10</text><text x="452.2" y="569.9" text-anchor="middle" font-size="15.8">12</text><text x="82" y="543.6" text-anchor="end" font-size="15.8">-0.025</text><text x="82" y="499.8" text-anchor="end" font-size="15.8">-0.020</text><text x="82" y="456.0" text-anchor="end" font-size="15.8">-0.015</text><text x="82" y="412.3" text-anchor="end" font-size="15.8">-0.010</text><text x="82" y="368.5" text-anchor="end" font-size="15.8">-0.005</text><text x="82" y="324.7" text-anchor="end" font-size="15.8">0.000</text><text x="82" y="280.9" text-anchor="end" font-size="15.8">0.005</text>
<line x1="365" y1="365.2" x2="395.5" y2="365.2" stroke="#000000" stroke-width="1.65"/><text x="398.6" y="370.0" font-size="14">2g<tspan dy="5.8" font-size="8.2">9/2</tspan></text><text x="317" y="368.9" font-family="Liberation Serif" font-size="11.6" textLength="44.6" lengthAdjust="spacingAndGlyphs">λ/λ<tspan font-size="5.5" dy="0.5">0</tspan><tspan dy="-0.5"> =</tspan>1.0</text><line x1="364" y1="386.3" x2="395.5" y2="386.3" stroke="#000000" stroke-width="1.65" stroke-dasharray="3.3,2.3"/><text x="398.8" y="391.1" font-size="14">1i<tspan dy="5.8" font-size="8.1">11/2</tspan></text><line x1="365" y1="407.4" x2="395.5" y2="407.4" stroke="#ff0000" stroke-width="1.65"/><text x="398.6" y="412.2" font-size="14">2g<tspan dy="5.8" font-size="8.2">9/2</tspan></text><text x="317" y="411.1" font-family="Liberation Serif" font-size="11.6" textLength="44.6" lengthAdjust="spacingAndGlyphs">λ/λ<tspan font-size="5.5" dy="0.5">0</tspan><tspan dy="-0.5"> =</tspan>0.8</text><line x1="364" y1="428.4" x2="395.5" y2="428.4" stroke="#ff0000" stroke-width="1.65" stroke-dasharray="3.3,2.3"/><text x="398.8" y="433.2" font-size="14">1i<tspan dy="5.8" font-size="8.1">11/2</tspan></text><line x1="365" y1="449.5" x2="395.5" y2="449.5" stroke="#0000ff" stroke-width="1.65"/><text x="398.6" y="454.3" font-size="14">2g<tspan dy="5.8" font-size="8.2">9/2</tspan></text><text x="317" y="453.2" font-family="Liberation Serif" font-size="11.6" textLength="44.6" lengthAdjust="spacingAndGlyphs">λ/λ<tspan font-size="5.5" dy="0.5">0</tspan><tspan dy="-0.5"> =</tspan>0.6</text><line x1="364" y1="470.6" x2="395.5" y2="470.6" stroke="#0000ff" stroke-width="1.65" stroke-dasharray="3.3,2.3"/><text x="398.8" y="475.4" font-size="14">1i<tspan dy="5.8" font-size="8.1">11/2</tspan></text><line x1="365" y1="491.7" x2="395.5" y2="491.7" stroke="#ff00ff" stroke-width="1.65"/><text x="398.6" y="496.5" font-size="14">2g<tspan dy="5.8" font-size="8.2">9/2</tspan></text><text x="317" y="495.4" font-family="Liberation Serif" font-size="11.6" textLength="44.6" lengthAdjust="spacingAndGlyphs">λ/λ<tspan font-size="5.5" dy="0.5">0</tspan><tspan dy="-0.5"> =</tspan>0.4</text><line x1="364" y1="512.8" x2="395.5" y2="512.8" stroke="#ff00ff" stroke-width="1.65" stroke-dasharray="3.3,2.3"/><text x="398.8" y="517.6" font-size="14">1i<tspan dy="5.8" font-size="8.1">11/2</tspan></text>
<text x="272.0" y="593.5" text-anchor="middle" font-size="19.6">r [fm]</text>
<text transform="translate(23.5,505) rotate(-90)" font-size="19.6">Wavefunction [fm<tspan dy="-11.3" font-size="12.5">-3/2</tspan><tspan dy="11.3">]</tspan></text>
</svg>
</body></html>
